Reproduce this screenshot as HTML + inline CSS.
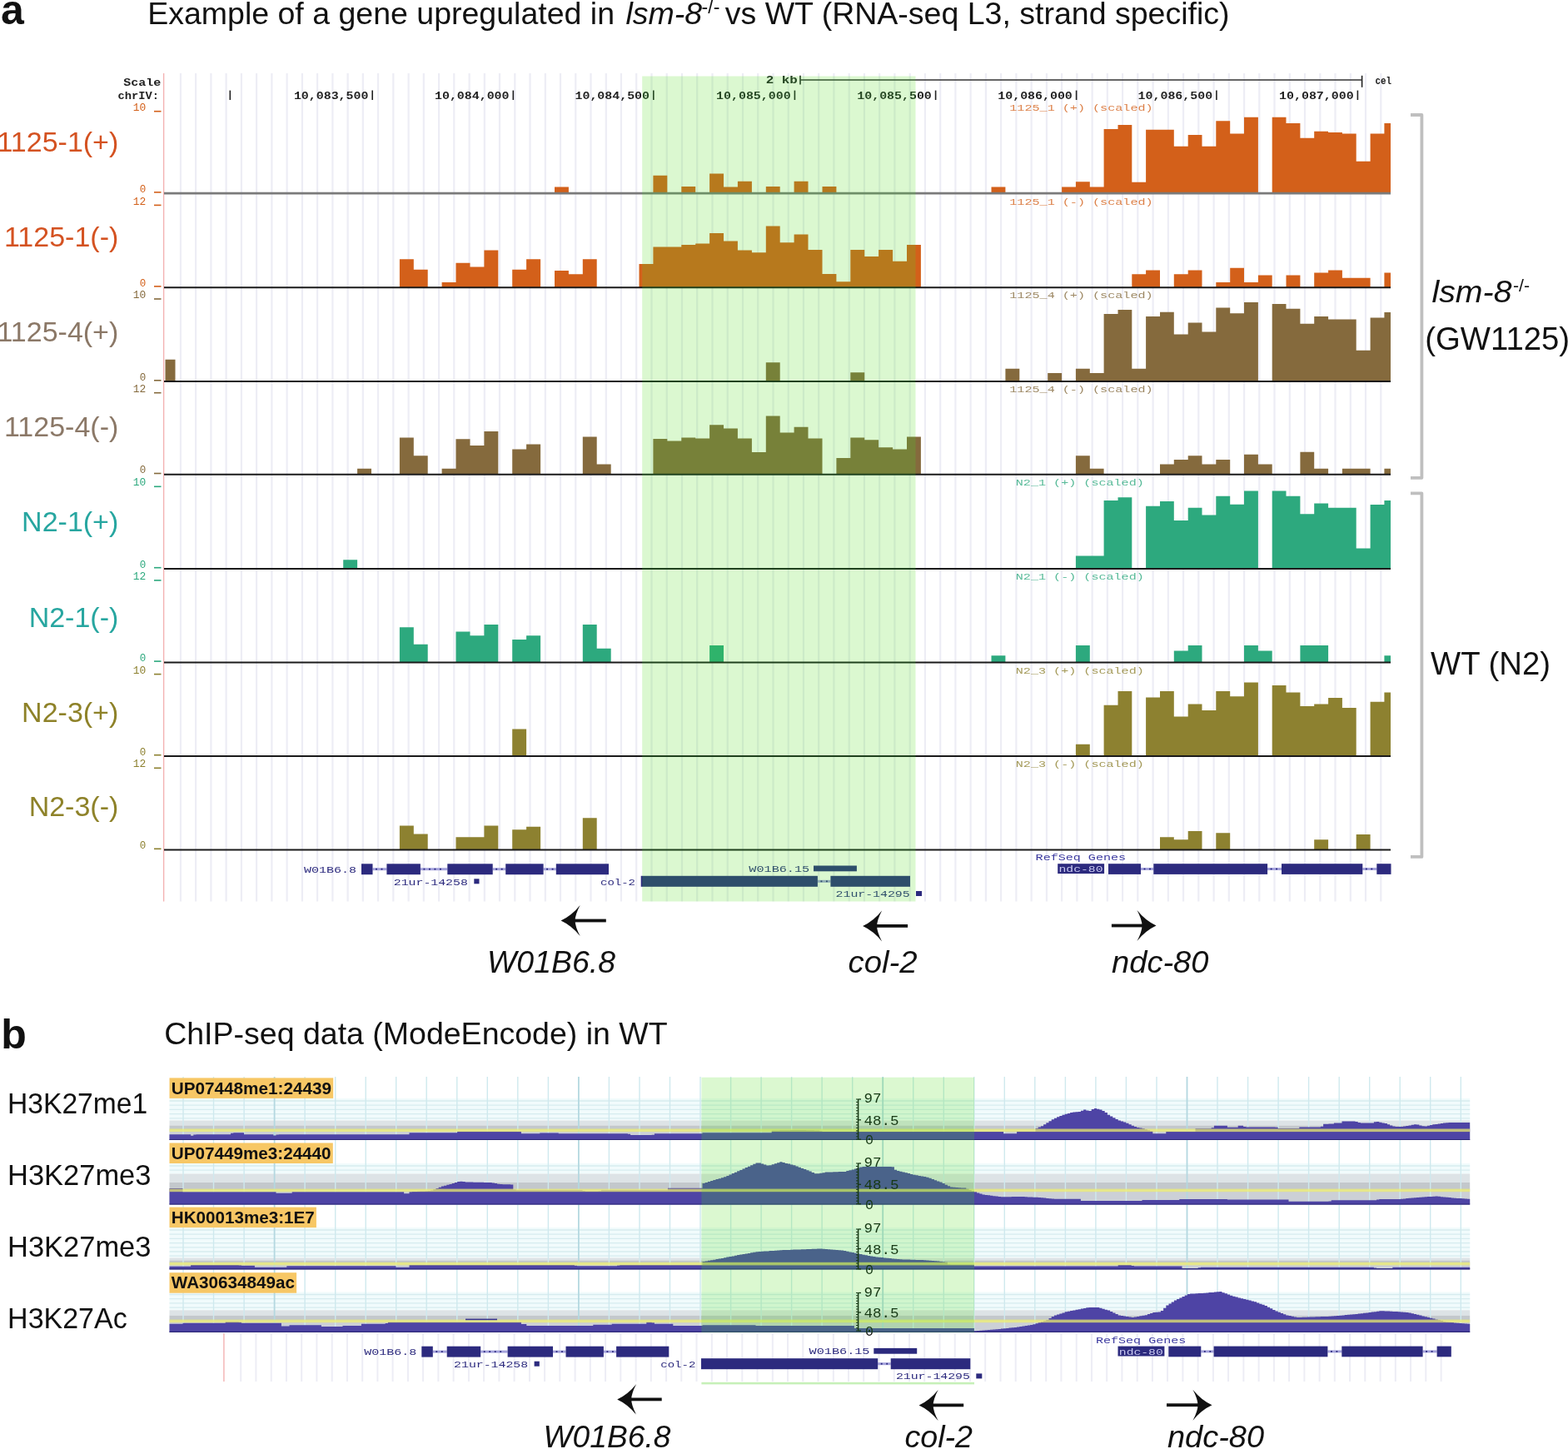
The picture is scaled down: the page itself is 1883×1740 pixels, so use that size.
<!DOCTYPE html>
<html><head><meta charset="utf-8"><title>lsm-8 RNA-seq and ChIP-seq browser tracks</title>
<style>html,body{margin:0;padding:0;background:#fff;}body{width:1883px;height:1740px;overflow:hidden;}svg{display:block;}</style>
</head><body>
<svg width="1883" height="1740" viewBox="0 0 1883 1740">
<rect x="0" y="0" width="1883" height="1740" fill="#fff"/>
<text x="1" y="28.6" font-family="'Liberation Sans', Arial, sans-serif" font-weight="bold" font-size="50" fill="#111">a</text>
<text x="177.2" y="28.7" font-family="'Liberation Sans', Arial, sans-serif" font-size="37.5" fill="#111">Example of a gene upregulated in <tspan font-style="italic" dx="3">lsm-8</tspan><tspan font-size="23" dy="-13" dx="-0.5">-/-</tspan><tspan dy="13" dx="-4"> vs WT (RNA-seq L3, strand specific)</tspan></text>
<defs><clipPath id="cpa"><rect x="771.2" y="91.5" width="328.3" height="991"/></clipPath><clipPath id="cpb"><rect x="842.4" y="1293.8" width="327.6" height="306.5"/></clipPath><filter id="hl" color-interpolation-filters="sRGB" filterUnits="userSpaceOnUse" x="0" y="0" width="1883" height="1740"><feColorMatrix type="matrix" values="0.82 0 0 0 0.039  0 0.8 0 0 0.173  0 0 0.78 0 0.035  0 0 0 1 0"/></filter></defs>
<g id="pa">
<rect x="760" y="85" width="350" height="1000" fill="#fff"/>
<g stroke="#ededf5" stroke-width="2.2"><line x1="216.9" y1="88" x2="216.9" y2="1082.5"/><line x1="235.1" y1="88" x2="235.1" y2="1082.5"/><line x1="253.4" y1="88" x2="253.4" y2="1082.5"/><line x1="271.6" y1="88" x2="271.6" y2="1082.5"/><line x1="289.9" y1="88" x2="289.9" y2="1082.5"/><line x1="308.1" y1="88" x2="308.1" y2="1082.5"/><line x1="326.4" y1="88" x2="326.4" y2="1082.5"/><line x1="344.6" y1="88" x2="344.6" y2="1082.5"/><line x1="362.9" y1="88" x2="362.9" y2="1082.5"/><line x1="381.1" y1="88" x2="381.1" y2="1082.5"/><line x1="399.4" y1="88" x2="399.4" y2="1082.5"/><line x1="417.6" y1="88" x2="417.6" y2="1082.5"/><line x1="435.8" y1="88" x2="435.8" y2="1082.5"/><line x1="454.1" y1="88" x2="454.1" y2="1082.5"/><line x1="472.3" y1="88" x2="472.3" y2="1082.5"/><line x1="490.6" y1="88" x2="490.6" y2="1082.5"/><line x1="508.8" y1="88" x2="508.8" y2="1082.5"/><line x1="527.1" y1="88" x2="527.1" y2="1082.5"/><line x1="545.3" y1="88" x2="545.3" y2="1082.5"/><line x1="563.6" y1="88" x2="563.6" y2="1082.5"/><line x1="581.8" y1="88" x2="581.8" y2="1082.5"/><line x1="600" y1="88" x2="600" y2="1082.5"/><line x1="618.3" y1="88" x2="618.3" y2="1082.5"/><line x1="636.5" y1="88" x2="636.5" y2="1082.5"/><line x1="654.8" y1="88" x2="654.8" y2="1082.5"/><line x1="673" y1="88" x2="673" y2="1082.5"/><line x1="691.3" y1="88" x2="691.3" y2="1082.5"/><line x1="709.5" y1="88" x2="709.5" y2="1082.5"/><line x1="727.8" y1="88" x2="727.8" y2="1082.5"/><line x1="746" y1="88" x2="746" y2="1082.5"/><line x1="764.2" y1="88" x2="764.2" y2="1082.5"/><line x1="782.5" y1="88" x2="782.5" y2="1082.5"/><line x1="800.7" y1="88" x2="800.7" y2="1082.5"/><line x1="819" y1="88" x2="819" y2="1082.5"/><line x1="837.2" y1="88" x2="837.2" y2="1082.5"/><line x1="855.5" y1="88" x2="855.5" y2="1082.5"/><line x1="873.7" y1="88" x2="873.7" y2="1082.5"/><line x1="892" y1="88" x2="892" y2="1082.5"/><line x1="910.2" y1="88" x2="910.2" y2="1082.5"/><line x1="928.5" y1="88" x2="928.5" y2="1082.5"/><line x1="946.7" y1="88" x2="946.7" y2="1082.5"/><line x1="964.9" y1="88" x2="964.9" y2="1082.5"/><line x1="983.2" y1="88" x2="983.2" y2="1082.5"/><line x1="1001.4" y1="88" x2="1001.4" y2="1082.5"/><line x1="1019.7" y1="88" x2="1019.7" y2="1082.5"/><line x1="1037.9" y1="88" x2="1037.9" y2="1082.5"/><line x1="1056.2" y1="88" x2="1056.2" y2="1082.5"/><line x1="1074.4" y1="88" x2="1074.4" y2="1082.5"/><line x1="1092.7" y1="88" x2="1092.7" y2="1082.5"/><line x1="1110.9" y1="88" x2="1110.9" y2="1082.5"/><line x1="1129.2" y1="88" x2="1129.2" y2="1082.5"/><line x1="1147.4" y1="88" x2="1147.4" y2="1082.5"/><line x1="1165.6" y1="88" x2="1165.6" y2="1082.5"/><line x1="1183.9" y1="88" x2="1183.9" y2="1082.5"/><line x1="1202.1" y1="88" x2="1202.1" y2="1082.5"/><line x1="1220.4" y1="88" x2="1220.4" y2="1082.5"/><line x1="1238.6" y1="88" x2="1238.6" y2="1082.5"/><line x1="1256.9" y1="88" x2="1256.9" y2="1082.5"/><line x1="1275.1" y1="88" x2="1275.1" y2="1082.5"/><line x1="1293.4" y1="88" x2="1293.4" y2="1082.5"/><line x1="1311.6" y1="88" x2="1311.6" y2="1082.5"/><line x1="1329.8" y1="88" x2="1329.8" y2="1082.5"/><line x1="1348.1" y1="88" x2="1348.1" y2="1082.5"/><line x1="1366.3" y1="88" x2="1366.3" y2="1082.5"/><line x1="1384.6" y1="88" x2="1384.6" y2="1082.5"/><line x1="1402.8" y1="88" x2="1402.8" y2="1082.5"/><line x1="1421.1" y1="88" x2="1421.1" y2="1082.5"/><line x1="1439.3" y1="88" x2="1439.3" y2="1082.5"/><line x1="1457.6" y1="88" x2="1457.6" y2="1082.5"/><line x1="1475.8" y1="88" x2="1475.8" y2="1082.5"/><line x1="1494.1" y1="88" x2="1494.1" y2="1082.5"/><line x1="1512.3" y1="88" x2="1512.3" y2="1082.5"/><line x1="1530.5" y1="88" x2="1530.5" y2="1082.5"/><line x1="1548.8" y1="88" x2="1548.8" y2="1082.5"/><line x1="1567" y1="88" x2="1567" y2="1082.5"/><line x1="1585.3" y1="88" x2="1585.3" y2="1082.5"/><line x1="1603.5" y1="88" x2="1603.5" y2="1082.5"/><line x1="1621.8" y1="88" x2="1621.8" y2="1082.5"/><line x1="1640" y1="88" x2="1640" y2="1082.5"/><line x1="1658.3" y1="88" x2="1658.3" y2="1082.5"/></g>
<line x1="196.6" y1="88" x2="196.6" y2="1082.5" stroke="#f3b2b2" stroke-width="1.4"/>
<g font-family="'Liberation Mono', 'DejaVu Sans Mono', monospace" font-size="13" font-weight="bold" fill="#222">
<text x="148.3" y="102.6" textLength="45" lengthAdjust="spacingAndGlyphs">Scale</text>
<text x="141.5" y="119.4" textLength="49.5" lengthAdjust="spacingAndGlyphs">chrIV:</text>
<text x="352.9" y="119.4" textLength="89.5" lengthAdjust="spacingAndGlyphs">10,083,500</text>
<text x="522" y="119.4" textLength="89.5" lengthAdjust="spacingAndGlyphs">10,084,000</text>
<text x="690.5" y="119.4" textLength="89.5" lengthAdjust="spacingAndGlyphs">10,084,500</text>
<text x="860.1" y="119.4" textLength="89.5" lengthAdjust="spacingAndGlyphs">10,085,000</text>
<text x="1029.3" y="119.4" textLength="89.5" lengthAdjust="spacingAndGlyphs">10,085,500</text>
<text x="1198.3" y="119.4" textLength="89.5" lengthAdjust="spacingAndGlyphs">10,086,000</text>
<text x="1366.6" y="119.4" textLength="89.5" lengthAdjust="spacingAndGlyphs">10,086,500</text>
<text x="1536.1" y="119.4" textLength="89.5" lengthAdjust="spacingAndGlyphs">10,087,000</text>
<text x="919.8" y="100.2" textLength="38" lengthAdjust="spacingAndGlyphs">2 kb</text>
<text x="1651.5" y="100.6" textLength="19.5" lengthAdjust="spacingAndGlyphs">cel</text>
</g>
<g stroke="#222" stroke-width="1.6">
<line x1="276.3" y1="108.6" x2="276.3" y2="120"/>
<line x1="447.2" y1="108.6" x2="447.2" y2="120"/>
<line x1="616.3" y1="108.6" x2="616.3" y2="120"/>
<line x1="784.8" y1="108.6" x2="784.8" y2="120"/>
<line x1="954.4" y1="108.6" x2="954.4" y2="120"/>
<line x1="1123.6" y1="108.6" x2="1123.6" y2="120"/>
<line x1="1292.6" y1="108.6" x2="1292.6" y2="120"/>
<line x1="1460.9" y1="108.6" x2="1460.9" y2="120"/>
<line x1="1630.4" y1="108.6" x2="1630.4" y2="120"/>
<line x1="961" y1="90.8" x2="961" y2="101.5"/>
<line x1="1635.6" y1="90.8" x2="1635.6" y2="104.8"/>
<line x1="961" y1="96" x2="1635.6" y2="96" stroke="#333" stroke-width="1.5"/>
</g>
<path fill="#d3601a" d="M666 232.2 L666 224.4 L682.9 224.4 L682.9 232.2 Z M784.4 232.2 L784.4 210.8 L801.3 210.8 L801.3 232.2 Z M818.3 232.2 L818.3 224.1 L835.2 224.1 L835.2 232.2 Z M852.1 232.2 L852.1 208.4 L869 208.4 L869 224.4 L885.9 224.4 L885.9 217.7 L902.9 217.7 L902.9 232.2 Z M919.8 232.2 L919.8 224.1 L936.7 224.1 L936.7 232.2 Z M953.6 232.2 L953.6 217.7 L970.5 217.7 L970.5 232.2 Z M987.5 232.2 L987.5 224.1 L1004.4 224.1 L1004.4 232.2 Z M1190.5 232.2 L1190.5 224.4 L1207.4 224.4 L1207.4 232.2 Z M1275.1 232.2 L1275.1 224.4 L1291.9 224.4 L1291.9 218.2 L1308.8 218.2 L1308.8 224.4 L1325.6 224.4 L1325.6 155 L1342.5 155 L1342.5 150 L1359.3 150 L1359.3 218.8 L1376.1 218.8 L1376.1 155.8 L1393 155.8 L1393 155.8 L1409.8 155.8 L1409.8 175.8 L1426.7 175.8 L1426.7 162 L1443.5 162 L1443.5 175.8 L1460.3 175.8 L1460.3 145.2 L1477.2 145.2 L1477.2 160.4 L1494 160.4 L1494 140.7 L1510.9 140.7 L1510.9 232.2 Z M1527.7 232.2 L1527.7 140.7 L1544.5 140.7 L1544.5 147.9 L1561.4 147.9 L1561.4 165.7 L1578.2 165.7 L1578.2 157.7 L1595.1 157.7 L1595.1 159 L1611.9 159 L1611.9 160.4 L1628.7 160.4 L1628.7 193.8 L1645.6 193.8 L1645.6 160.4 L1662.4 160.4 L1662.4 147.9 L1670 147.9 L1670 232.2 Z"/>
<line x1="197" y1="232.2" x2="1670" y2="232.2" stroke="#7a7a7a" stroke-width="2.8"/>
<text x="1212.3" y="132.8" font-family="'Liberation Mono', 'DejaVu Sans Mono', monospace" font-size="11.5" fill="#d3601a" fill-opacity="0.8" textLength="172.3" lengthAdjust="spacingAndGlyphs">1125_1 (+) (scaled)</text>
<text x="159.8" y="132.8" font-family="'Liberation Mono', 'DejaVu Sans Mono', monospace" font-size="12.5" fill="#d3601a" textLength="15.5" lengthAdjust="spacingAndGlyphs">10</text>
<rect x="185" y="132.9" width="8.5" height="1.6" fill="#d3601a"/>
<text x="167.8" y="230.7" font-family="'Liberation Mono', 'DejaVu Sans Mono', monospace" font-size="12.5" fill="#d3601a" textLength="7.5" lengthAdjust="spacingAndGlyphs">0</text>
<rect x="185" y="230.1" width="8.5" height="1.6" fill="#d3601a"/>
<text x="142.3" y="182" font-family="'Liberation Sans', Arial, sans-serif" font-size="34" fill="#d45221" text-anchor="end">1125-1(+)</text>
<path fill="#d3601a" d="M479.9 345.2 L479.9 311.2 L496.8 311.2 L496.8 323.7 L513.7 323.7 L513.7 345.2 Z M530.6 345.2 L530.6 339.1 L547.5 339.1 L547.5 315.7 L564.5 315.7 L564.5 320.5 L581.4 320.5 L581.4 300.6 L598.3 300.6 L598.3 345.2 Z M615.2 345.2 L615.2 323.7 L632.1 323.7 L632.1 311.2 L649.1 311.2 L649.1 345.2 Z M666 345.2 L666 325 L682.9 325 L682.9 329.2 L699.8 329.2 L699.8 311.2 L716.7 311.2 L716.7 345.2 Z M767.5 345.2 L767.5 317 L784.4 317 L784.4 296.6 L801.3 296.6 L801.3 296.6 L818.3 296.6 L818.3 293.9 L835.2 293.9 L835.2 292.6 L852.1 292.6 L852.1 280.1 L869 280.1 L869 289.4 L885.9 289.4 L885.9 300.6 L902.9 300.6 L902.9 303.2 L919.8 303.2 L919.8 271.4 L936.7 271.4 L936.7 291.3 L953.6 291.3 L953.6 281.4 L970.5 281.4 L970.5 300 L987.5 300 L987.5 329 L1004.4 329 L1004.4 338.3 L1021.3 338.3 L1021.3 300 L1038.2 300 L1038.2 308 L1055.1 308 L1055.1 300 L1072.1 300 L1072.1 313.8 L1089 313.8 L1089 293.9 L1105.9 293.9 L1105.9 345.2 Z M1359.3 345.2 L1359.3 329.2 L1376.1 329.2 L1376.1 324.5 L1393 324.5 L1393 345.2 Z M1409.8 345.2 L1409.8 329.2 L1426.7 329.2 L1426.7 324.5 L1443.5 324.5 L1443.5 345.2 Z M1460.3 345.2 L1460.3 339 L1477.2 339 L1477.2 321.8 L1494 321.8 L1494 339 L1510.9 339 L1510.9 330.6 L1527.7 330.6 L1527.7 345.2 Z M1544.5 345.2 L1544.5 330.6 L1561.4 330.6 L1561.4 345.2 Z M1578.2 345.2 L1578.2 327.6 L1595.1 327.6 L1595.1 324.5 L1611.9 324.5 L1611.9 333.8 L1628.7 333.8 L1628.7 333.8 L1645.6 333.8 L1645.6 345.2 Z M1662.4 345.2 L1662.4 327.6 L1670 327.6 L1670 345.2 Z"/>
<line x1="197" y1="345.2" x2="1670" y2="345.2" stroke="#1a1a1a" stroke-width="2"/>
<text x="1212.3" y="245.5" font-family="'Liberation Mono', 'DejaVu Sans Mono', monospace" font-size="11.5" fill="#d3601a" fill-opacity="0.8" textLength="172.3" lengthAdjust="spacingAndGlyphs">1125_1 (-) (scaled)</text>
<text x="159.8" y="245.5" font-family="'Liberation Mono', 'DejaVu Sans Mono', monospace" font-size="12.5" fill="#d3601a" textLength="15.5" lengthAdjust="spacingAndGlyphs">12</text>
<rect x="185" y="245.6" width="8.5" height="1.6" fill="#d3601a"/>
<text x="167.8" y="343.7" font-family="'Liberation Mono', 'DejaVu Sans Mono', monospace" font-size="12.5" fill="#d3601a" textLength="7.5" lengthAdjust="spacingAndGlyphs">0</text>
<rect x="185" y="343.1" width="8.5" height="1.6" fill="#d3601a"/>
<text x="142.3" y="296" font-family="'Liberation Sans', Arial, sans-serif" font-size="34" fill="#d45221" text-anchor="end">1125-1(-)</text>
<path fill="#856a3d" d="M198.5 458.1 L198.5 431.8 L210.5 431.8 L210.5 458.1 Z M919.8 458.1 L919.8 435.3 L936.7 435.3 L936.7 458.1 Z M1021.3 458.1 L1021.3 447.2 L1038.2 447.2 L1038.2 458.1 Z M1207.4 458.1 L1207.4 442.7 L1224.3 442.7 L1224.3 458.1 Z M1258.2 458.1 L1258.2 448 L1275.1 448 L1275.1 458.1 Z M1291.9 458.1 L1291.9 442.7 L1308.8 442.7 L1308.8 448 L1325.6 448 L1325.6 376.9 L1342.5 376.9 L1342.5 372.1 L1359.3 372.1 L1359.3 442.7 L1376.1 442.7 L1376.1 380 L1393 380 L1393 374.7 L1409.8 374.7 L1409.8 401.6 L1426.7 401.6 L1426.7 387.5 L1443.5 387.5 L1443.5 398.6 L1460.3 398.6 L1460.3 369.4 L1477.2 369.4 L1477.2 376.3 L1494 376.3 L1494 363.1 L1510.9 363.1 L1510.9 458.1 Z M1527.7 458.1 L1527.7 364.9 L1544.5 364.9 L1544.5 370.8 L1561.4 370.8 L1561.4 388.8 L1578.2 388.8 L1578.2 380 L1595.1 380 L1595.1 383.5 L1611.9 383.5 L1611.9 383.5 L1628.7 383.5 L1628.7 420.7 L1645.6 420.7 L1645.6 381.6 L1662.4 381.6 L1662.4 375 L1670 375 L1670 458.1 Z"/>
<line x1="197" y1="458.1" x2="1670" y2="458.1" stroke="#1a1a1a" stroke-width="2"/>
<text x="1212.3" y="358.1" font-family="'Liberation Mono', 'DejaVu Sans Mono', monospace" font-size="11.5" fill="#856a3d" fill-opacity="0.8" textLength="172.3" lengthAdjust="spacingAndGlyphs">1125_4 (+) (scaled)</text>
<text x="159.8" y="358.1" font-family="'Liberation Mono', 'DejaVu Sans Mono', monospace" font-size="12.5" fill="#856a3d" textLength="15.5" lengthAdjust="spacingAndGlyphs">10</text>
<rect x="185" y="358.2" width="8.5" height="1.6" fill="#856a3d"/>
<text x="167.8" y="456.6" font-family="'Liberation Mono', 'DejaVu Sans Mono', monospace" font-size="12.5" fill="#856a3d" textLength="7.5" lengthAdjust="spacingAndGlyphs">0</text>
<rect x="185" y="456" width="8.5" height="1.6" fill="#856a3d"/>
<text x="142.3" y="410" font-family="'Liberation Sans', Arial, sans-serif" font-size="34" fill="#8b7867" text-anchor="end">1125-4(+)</text>
<path fill="#856a3d" d="M429.1 569.8 L429.1 562.7 L446 562.7 L446 569.8 Z M479.9 569.8 L479.9 525.6 L496.8 525.6 L496.8 547.3 L513.7 547.3 L513.7 569.8 Z M530.6 569.8 L530.6 562.7 L547.5 562.7 L547.5 527.2 L564.5 527.2 L564.5 534.9 L581.4 534.9 L581.4 518.1 L598.3 518.1 L598.3 569.8 Z M615.2 569.8 L615.2 539.6 L632.1 539.6 L632.1 533.5 L649.1 533.5 L649.1 569.8 Z M699.8 569.8 L699.8 524.5 L716.7 524.5 L716.7 557.4 L733.7 557.4 L733.7 569.8 Z M784.4 569.8 L784.4 526.9 L801.3 526.9 L801.3 529.5 L818.3 529.5 L818.3 525.6 L835.2 525.6 L835.2 526.6 L852.1 526.6 L852.1 510.2 L869 510.2 L869 514.4 L885.9 514.4 L885.9 526.6 L902.9 526.6 L902.9 543.1 L919.8 543.1 L919.8 499.5 L936.7 499.5 L936.7 519.5 L953.6 519.5 L953.6 512.8 L970.5 512.8 L970.5 526.6 L987.5 526.6 L987.5 569.8 Z M1004.4 569.8 L1004.4 550 L1021.3 550 L1021.3 525.6 L1038.2 525.6 L1038.2 528.2 L1055.1 528.2 L1055.1 537.2 L1072.1 537.2 L1072.1 539.4 L1089 539.4 L1089 524.5 L1105.9 524.5 L1105.9 569.8 Z M1291.9 569.8 L1291.9 547.3 L1308.8 547.3 L1308.8 562.7 L1325.6 562.7 L1325.6 569.8 Z M1393 569.8 L1393 557.4 L1409.8 557.4 L1409.8 552.1 L1426.7 552.1 L1426.7 547.3 L1443.5 547.3 L1443.5 557.4 L1460.3 557.4 L1460.3 552.1 L1477.2 552.1 L1477.2 569.8 Z M1494 569.8 L1494 545.7 L1510.9 545.7 L1510.9 557.4 L1527.7 557.4 L1527.7 569.8 Z M1561.4 569.8 L1561.4 542.8 L1578.2 542.8 L1578.2 562.7 L1595.1 562.7 L1595.1 569.8 Z M1611.9 569.8 L1611.9 562.7 L1628.7 562.7 L1628.7 562.7 L1645.6 562.7 L1645.6 569.8 Z M1662.4 569.8 L1662.4 562.7 L1670 562.7 L1670 569.8 Z"/>
<line x1="197" y1="569.8" x2="1670" y2="569.8" stroke="#1a1a1a" stroke-width="2"/>
<text x="1212.3" y="470.8" font-family="'Liberation Mono', 'DejaVu Sans Mono', monospace" font-size="11.5" fill="#856a3d" fill-opacity="0.8" textLength="172.3" lengthAdjust="spacingAndGlyphs">1125_4 (-) (scaled)</text>
<text x="159.8" y="470.8" font-family="'Liberation Mono', 'DejaVu Sans Mono', monospace" font-size="12.5" fill="#856a3d" textLength="15.5" lengthAdjust="spacingAndGlyphs">12</text>
<rect x="185" y="470.9" width="8.5" height="1.6" fill="#856a3d"/>
<text x="167.8" y="568.3" font-family="'Liberation Mono', 'DejaVu Sans Mono', monospace" font-size="12.5" fill="#856a3d" textLength="7.5" lengthAdjust="spacingAndGlyphs">0</text>
<rect x="185" y="567.7" width="8.5" height="1.6" fill="#856a3d"/>
<text x="142.3" y="524.3" font-family="'Liberation Sans', Arial, sans-serif" font-size="34" fill="#8b7867" text-anchor="end">1125-4(-)</text>
<path fill="#2da97e" d="M412.2 683 L412.2 672.2 L429.1 672.2 L429.1 683 Z M1291.9 683 L1291.9 667.5 L1308.8 667.5 L1308.8 667.5 L1325.6 667.5 L1325.6 601.1 L1342.5 601.1 L1342.5 597.3 L1359.3 597.3 L1359.3 683 Z M1376.1 683 L1376.1 607.7 L1393 607.7 L1393 601.9 L1409.8 601.9 L1409.8 625 L1426.7 625 L1426.7 609.8 L1443.5 609.8 L1443.5 618.6 L1460.3 618.6 L1460.3 595.8 L1477.2 595.8 L1477.2 605.8 L1494 605.8 L1494 589.4 L1510.9 589.4 L1510.9 683 Z M1527.7 683 L1527.7 589.4 L1544.5 589.4 L1544.5 595.8 L1561.4 595.8 L1561.4 617.3 L1578.2 617.3 L1578.2 604.5 L1595.1 604.5 L1595.1 609.8 L1611.9 609.8 L1611.9 609.8 L1628.7 609.8 L1628.7 658.4 L1645.6 658.4 L1645.6 606.1 L1662.4 606.1 L1662.4 601.1 L1670 601.1 L1670 683 Z"/>
<line x1="197" y1="683" x2="1670" y2="683" stroke="#1a1a1a" stroke-width="2"/>
<text x="1219.8" y="583.4" font-family="'Liberation Mono', 'DejaVu Sans Mono', monospace" font-size="11.5" fill="#2da97e" fill-opacity="0.8" textLength="154" lengthAdjust="spacingAndGlyphs">N2_1 (+) (scaled)</text>
<text x="159.8" y="583.4" font-family="'Liberation Mono', 'DejaVu Sans Mono', monospace" font-size="12.5" fill="#2da97e" textLength="15.5" lengthAdjust="spacingAndGlyphs">10</text>
<rect x="185" y="583.5" width="8.5" height="1.6" fill="#2da97e"/>
<text x="167.8" y="681.5" font-family="'Liberation Mono', 'DejaVu Sans Mono', monospace" font-size="12.5" fill="#2da97e" textLength="7.5" lengthAdjust="spacingAndGlyphs">0</text>
<rect x="185" y="680.9" width="8.5" height="1.6" fill="#2da97e"/>
<text x="142.3" y="638.2" font-family="'Liberation Sans', Arial, sans-serif" font-size="34" fill="#27a6a0" text-anchor="end">N2-1(+)</text>
<path fill="#2da97e" d="M479.9 795.4 L479.9 753.2 L496.8 753.2 L496.8 773.7 L513.7 773.7 L513.7 795.4 Z M547.5 795.4 L547.5 758.5 L564.5 758.5 L564.5 763.3 L581.4 763.3 L581.4 750 L598.3 750 L598.3 795.4 Z M615.2 795.4 L615.2 768.1 L632.1 768.1 L632.1 763.3 L649.1 763.3 L649.1 795.4 Z M699.8 795.4 L699.8 750 L716.7 750 L716.7 778.7 L733.7 778.7 L733.7 795.4 Z M852.1 795.4 L852.1 775 L869 775 L869 795.4 Z M1190.5 795.4 L1190.5 787.2 L1207.4 787.2 L1207.4 795.4 Z M1291.9 795.4 L1291.9 775 L1308.8 775 L1308.8 795.4 Z M1409.8 795.4 L1409.8 781.6 L1426.7 781.6 L1426.7 775 L1443.5 775 L1443.5 795.4 Z M1494 795.4 L1494 775 L1510.9 775 L1510.9 781.6 L1527.7 781.6 L1527.7 795.4 Z M1561.4 795.4 L1561.4 775 L1578.2 775 L1578.2 775 L1595.1 775 L1595.1 795.4 Z M1662.4 795.4 L1662.4 787.2 L1670 787.2 L1670 795.4 Z"/>
<line x1="197" y1="795.4" x2="1670" y2="795.4" stroke="#1a1a1a" stroke-width="2"/>
<text x="1219.8" y="696" font-family="'Liberation Mono', 'DejaVu Sans Mono', monospace" font-size="11.5" fill="#2da97e" fill-opacity="0.8" textLength="154" lengthAdjust="spacingAndGlyphs">N2_1 (-) (scaled)</text>
<text x="159.8" y="696" font-family="'Liberation Mono', 'DejaVu Sans Mono', monospace" font-size="12.5" fill="#2da97e" textLength="15.5" lengthAdjust="spacingAndGlyphs">12</text>
<rect x="185" y="696.1" width="8.5" height="1.6" fill="#2da97e"/>
<text x="167.8" y="793.9" font-family="'Liberation Mono', 'DejaVu Sans Mono', monospace" font-size="12.5" fill="#2da97e" textLength="7.5" lengthAdjust="spacingAndGlyphs">0</text>
<rect x="185" y="793.3" width="8.5" height="1.6" fill="#2da97e"/>
<text x="142.3" y="752.7" font-family="'Liberation Sans', Arial, sans-serif" font-size="34" fill="#27a6a0" text-anchor="end">N2-1(-)</text>
<path fill="#8d8130" d="M615.2 908 L615.2 875.5 L632.1 875.5 L632.1 908 Z M1291.9 908 L1291.9 893.8 L1308.8 893.8 L1308.8 908 Z M1325.6 908 L1325.6 846.8 L1342.5 846.8 L1342.5 830 L1359.3 830 L1359.3 908 Z M1376.1 908 L1376.1 837.5 L1393 837.5 L1393 830 L1409.8 830 L1409.8 860.6 L1426.7 860.6 L1426.7 845.5 L1443.5 845.5 L1443.5 852.9 L1460.3 852.9 L1460.3 830 L1477.2 830 L1477.2 836.2 L1494 836.2 L1494 819.4 L1510.9 819.4 L1510.9 908 Z M1527.7 908 L1527.7 822.9 L1544.5 822.9 L1544.5 831.6 L1561.4 831.6 L1561.4 848.1 L1578.2 848.1 L1578.2 845.5 L1595.1 845.5 L1595.1 838 L1611.9 838 L1611.9 850 L1628.7 850 L1628.7 908 Z M1645.6 908 L1645.6 842.8 L1662.4 842.8 L1662.4 831.6 L1670 831.6 L1670 908 Z"/>
<line x1="197" y1="908" x2="1670" y2="908" stroke="#1a1a1a" stroke-width="2"/>
<text x="1219.8" y="808.7" font-family="'Liberation Mono', 'DejaVu Sans Mono', monospace" font-size="11.5" fill="#8d8130" fill-opacity="0.8" textLength="154" lengthAdjust="spacingAndGlyphs">N2_3 (+) (scaled)</text>
<text x="159.8" y="808.7" font-family="'Liberation Mono', 'DejaVu Sans Mono', monospace" font-size="12.5" fill="#8d8130" textLength="15.5" lengthAdjust="spacingAndGlyphs">10</text>
<rect x="185" y="808.8" width="8.5" height="1.6" fill="#8d8130"/>
<text x="167.8" y="906.5" font-family="'Liberation Mono', 'DejaVu Sans Mono', monospace" font-size="12.5" fill="#8d8130" textLength="7.5" lengthAdjust="spacingAndGlyphs">0</text>
<rect x="185" y="905.9" width="8.5" height="1.6" fill="#8d8130"/>
<text x="142.3" y="866.5" font-family="'Liberation Sans', Arial, sans-serif" font-size="34" fill="#8e8229" text-anchor="end">N2-3(+)</text>
<path fill="#8d8130" d="M479.9 1020.6 L479.9 991.5 L496.8 991.5 L496.8 1001.6 L513.7 1001.6 L513.7 1020.6 Z M547.5 1020.6 L547.5 1005.3 L564.5 1005.3 L564.5 1005.3 L581.4 1005.3 L581.4 991.5 L598.3 991.5 L598.3 1020.6 Z M615.2 1020.6 L615.2 996.3 L632.1 996.3 L632.1 992.8 L649.1 992.8 L649.1 1020.6 Z M699.8 1020.6 L699.8 982.2 L716.7 982.2 L716.7 1020.6 Z M1393 1020.6 L1393 1005.3 L1409.8 1005.3 L1409.8 1008.2 L1426.7 1008.2 L1426.7 998.1 L1443.5 998.1 L1443.5 1020.6 Z M1460.3 1020.6 L1460.3 1000.3 L1477.2 1000.3 L1477.2 1020.6 Z M1578.2 1020.6 L1578.2 1008.2 L1595.1 1008.2 L1595.1 1020.6 Z M1628.7 1020.6 L1628.7 1002.1 L1645.6 1002.1 L1645.6 1020.6 Z"/>
<line x1="197" y1="1020.6" x2="1670" y2="1020.6" stroke="#1a1a1a" stroke-width="2"/>
<text x="1219.8" y="921.4" font-family="'Liberation Mono', 'DejaVu Sans Mono', monospace" font-size="11.5" fill="#8d8130" fill-opacity="0.8" textLength="154" lengthAdjust="spacingAndGlyphs">N2_3 (-) (scaled)</text>
<text x="159.8" y="921.4" font-family="'Liberation Mono', 'DejaVu Sans Mono', monospace" font-size="12.5" fill="#8d8130" textLength="15.5" lengthAdjust="spacingAndGlyphs">12</text>
<rect x="185" y="921.5" width="8.5" height="1.6" fill="#8d8130"/>
<text x="167.8" y="1019.1" font-family="'Liberation Mono', 'DejaVu Sans Mono', monospace" font-size="12.5" fill="#8d8130" textLength="7.5" lengthAdjust="spacingAndGlyphs">0</text>
<rect x="185" y="1018.5" width="8.5" height="1.6" fill="#8d8130"/>
<text x="142.3" y="980.3" font-family="'Liberation Sans', Arial, sans-serif" font-size="34" fill="#8e8229" text-anchor="end">N2-3(-)</text>
<rect x="447.5" y="1042.2" width="16.9" height="3" fill="#a4a2dc"/><rect x="451.1" y="1042.8" width="1.8" height="1.8" fill="#2c2a7e"/><rect x="457.6" y="1042.8" width="1.8" height="1.8" fill="#2c2a7e"/><rect x="504.9" y="1042.2" width="32.4" height="3" fill="#a4a2dc"/><rect x="508.5" y="1042.8" width="1.8" height="1.8" fill="#2c2a7e"/><rect x="515" y="1042.8" width="1.8" height="1.8" fill="#2c2a7e"/><rect x="521.5" y="1042.8" width="1.8" height="1.8" fill="#2c2a7e"/><rect x="528" y="1042.8" width="1.8" height="1.8" fill="#2c2a7e"/><rect x="591.7" y="1042.2" width="15.5" height="3" fill="#a4a2dc"/><rect x="595.3" y="1042.8" width="1.8" height="1.8" fill="#2c2a7e"/><rect x="601.8" y="1042.8" width="1.8" height="1.8" fill="#2c2a7e"/><rect x="652.6" y="1042.2" width="15.2" height="3" fill="#a4a2dc"/><rect x="656.2" y="1042.8" width="1.8" height="1.8" fill="#2c2a7e"/><rect x="662.7" y="1042.8" width="1.8" height="1.8" fill="#2c2a7e"/><rect x="434" y="1037.3" width="13.5" height="12.9" fill="#2c2a7e"/><rect x="464.4" y="1037.3" width="40.5" height="12.9" fill="#2c2a7e"/><rect x="537.3" y="1037.3" width="54.4" height="12.9" fill="#2c2a7e"/><rect x="607.2" y="1037.3" width="45.4" height="12.9" fill="#2c2a7e"/><rect x="667.8" y="1037.3" width="63.2" height="12.9" fill="#2c2a7e"/><text x="365" y="1047.5" font-family="'Liberation Mono', 'DejaVu Sans Mono', monospace" font-size="11.5" fill="#2c2a7e" textLength="63" lengthAdjust="spacingAndGlyphs">W01B6.8</text><text x="472.8" y="1062.5" font-family="'Liberation Mono', 'DejaVu Sans Mono', monospace" font-size="11.5" fill="#2c2a7e" textLength="89" lengthAdjust="spacingAndGlyphs">21ur-14258</text><rect x="569.3" y="1055.3" width="6.2" height="6" fill="#2c2a7e"/><rect x="981.9" y="1056.8" width="15.5" height="3" fill="#a4a2dc"/><rect x="985.5" y="1057.4" width="1.8" height="1.8" fill="#2c2a7e"/><rect x="992" y="1057.4" width="1.8" height="1.8" fill="#2c2a7e"/><rect x="769.7" y="1051.8" width="212.2" height="13" fill="#2c2a7e"/><rect x="997.4" y="1051.8" width="95.6" height="13" fill="#2c2a7e"/><text x="721" y="1062.5" font-family="'Liberation Mono', 'DejaVu Sans Mono', monospace" font-size="11.5" fill="#2c2a7e" textLength="42" lengthAdjust="spacingAndGlyphs">col-2</text><text x="899.3" y="1046.5" font-family="'Liberation Mono', 'DejaVu Sans Mono', monospace" font-size="11.5" fill="#2c2a7e" textLength="72.9" lengthAdjust="spacingAndGlyphs">W01B6.15</text><rect x="977" y="1039.5" width="51.9" height="6.8" fill="#2c2a7e"/><text x="1003.6" y="1077" font-family="'Liberation Mono', 'DejaVu Sans Mono', monospace" font-size="11.5" fill="#2c2a7e" textLength="89" lengthAdjust="spacingAndGlyphs">21ur-14295</text><rect x="1100" y="1070" width="7" height="6" fill="#2c2a7e"/><text x="1243.6" y="1033.3" font-family="'Liberation Mono', 'DejaVu Sans Mono', monospace" font-size="11.5" fill="#3c3aa0" textLength="108.5" lengthAdjust="spacingAndGlyphs">RefSeq Genes</text><rect x="1270.2" y="1037.2" width="55.9" height="11.9" fill="#2c2a7e"/><text x="1271.5" y="1047.2" font-family="'Liberation Mono', 'DejaVu Sans Mono', monospace" font-size="11.5" fill="#c8c8f0" textLength="53" lengthAdjust="spacingAndGlyphs">ndc-80</text><rect x="1370" y="1042" width="15.3" height="3" fill="#a4a2dc"/><rect x="1373.6" y="1042.6" width="1.8" height="1.8" fill="#2c2a7e"/><rect x="1380.1" y="1042.6" width="1.8" height="1.8" fill="#2c2a7e"/><rect x="1522.1" y="1042" width="16.9" height="3" fill="#a4a2dc"/><rect x="1525.7" y="1042.6" width="1.8" height="1.8" fill="#2c2a7e"/><rect x="1532.2" y="1042.6" width="1.8" height="1.8" fill="#2c2a7e"/><rect x="1636.3" y="1042" width="17" height="3" fill="#a4a2dc"/><rect x="1639.9" y="1042.6" width="1.8" height="1.8" fill="#2c2a7e"/><rect x="1646.4" y="1042.6" width="1.8" height="1.8" fill="#2c2a7e"/><rect x="1331" y="1037.2" width="39" height="12.7" fill="#2c2a7e"/><rect x="1385.3" y="1037.2" width="136.8" height="12.7" fill="#2c2a7e"/><rect x="1539" y="1037.2" width="97.3" height="12.7" fill="#2c2a7e"/><rect x="1653.3" y="1037.2" width="17.2" height="12.7" fill="#2c2a7e"/>
</g>
<g clip-path="url(#cpa)"><use href="#pa" filter="url(#hl)"/></g>
<path d="M673.6 1105.5 Q686.6 1099.5 696.6 1087 Q690.6 1098.5 690.6 1105.5 Q690.6 1112.5 696.6 1124 Q686.6 1111.5 673.6 1105.5Z" fill="#111"/><rect x="688.6" y="1103.6" width="39.2" height="3.8" fill="#111"/>
<path d="M1036.1 1111.9 Q1049.1 1105.9 1059.1 1093.4 Q1053.1 1104.9 1053.1 1111.9 Q1053.1 1118.9 1059.1 1130.4 Q1049.1 1117.9 1036.1 1111.9Z" fill="#111"/><rect x="1051.1" y="1110" width="39" height="3.8" fill="#111"/>
<path d="M1388.5 1111.5 Q1375.5 1105.5 1365.5 1093 Q1371.5 1104.5 1371.5 1111.5 Q1371.5 1118.5 1365.5 1130 Q1375.5 1117.5 1388.5 1111.5Z" fill="#111"/><rect x="1334.9" y="1109.6" width="38.6" height="3.8" fill="#111"/>
<g font-family="'Liberation Sans', Arial, sans-serif" font-style="italic" font-size="37" fill="#111">
<text x="585" y="1168" textLength="154" lengthAdjust="spacingAndGlyphs">W01B6.8</text>
<text x="1018.5" y="1168" textLength="83" lengthAdjust="spacingAndGlyphs">col-2</text>
<text x="1335" y="1168" textLength="116.5" lengthAdjust="spacingAndGlyphs">ndc-80</text>
</g>
<g stroke="#bfbfbf" stroke-width="3.8" fill="none" stroke-linejoin="round">
<path d="M1694 138 H1707.4 V573.8 H1694"/>
<path d="M1694 592.4 H1707.4 V1028.9 H1694"/>
</g>
<text x="1719.5" y="362.8" font-family="'Liberation Sans', Arial, sans-serif" font-size="37.5" font-style="italic" fill="#111" textLength="96" lengthAdjust="spacingAndGlyphs">lsm-8</text>
<text x="1817" y="349.5" font-family="'Liberation Sans', Arial, sans-serif" font-size="21" fill="#111" textLength="20" lengthAdjust="spacingAndGlyphs">-/-</text>
<text x="1711.3" y="419.6" font-family="'Liberation Sans', Arial, sans-serif" font-size="38.3" fill="#111">(GW1125)</text>
<text x="1718" y="810" font-family="'Liberation Sans', Arial, sans-serif" font-size="38.3" fill="#111">WT (N2)</text>
<text x="1.2" y="1258.6" font-family="'Liberation Sans', Arial, sans-serif" font-weight="bold" font-size="50" fill="#111">b</text>
<text x="197.2" y="1253.8" font-family="'Liberation Sans', Arial, sans-serif" font-size="37.5" fill="#111">ChIP-seq data (ModeEncode) in WT</text>
<g id="pb">
<rect x="830" y="1285" width="350" height="320" fill="#fff"/>
<rect x="203.5" y="1319" width="1561.7" height="26.5" fill="#f1fbfc"/>
<g stroke="#d6ecef" stroke-width="1.3"><line x1="203.5" y1="1322" x2="1765.2" y2="1322"/><line x1="203.5" y1="1327.2" x2="1765.2" y2="1327.2"/><line x1="203.5" y1="1332.4" x2="1765.2" y2="1332.4"/><line x1="203.5" y1="1337.6" x2="1765.2" y2="1337.6"/><line x1="203.5" y1="1342.8" x2="1765.2" y2="1342.8"/></g>
<rect x="203.5" y="1345.5" width="1561.7" height="6" fill="#dde3e6"/>
<rect x="203.5" y="1351.5" width="1561.7" height="5.8" fill="#c3c8cc"/>
<rect x="203.5" y="1357.3" width="1561.7" height="11.6" fill="#ccd0d6"/>
<rect x="203.5" y="1397" width="1561.7" height="12.5" fill="#f1fbfc"/>
<g stroke="#d6ecef" stroke-width="1.3"><line x1="203.5" y1="1400" x2="1765.2" y2="1400"/><line x1="203.5" y1="1405.2" x2="1765.2" y2="1405.2"/></g>
<rect x="203.5" y="1409.5" width="1561.7" height="10.5" fill="#dde3e6"/>
<rect x="203.5" y="1420" width="1561.7" height="9.4" fill="#c3c8cc"/>
<rect x="203.5" y="1429.4" width="1561.7" height="17" fill="#ccd0d6"/>
<rect x="203.5" y="1474" width="1561.7" height="36.5" fill="#f1fbfc"/>
<g stroke="#d6ecef" stroke-width="1.3"><line x1="203.5" y1="1477" x2="1765.2" y2="1477"/><line x1="203.5" y1="1482.2" x2="1765.2" y2="1482.2"/><line x1="203.5" y1="1487.4" x2="1765.2" y2="1487.4"/><line x1="203.5" y1="1492.6" x2="1765.2" y2="1492.6"/><line x1="203.5" y1="1497.8" x2="1765.2" y2="1497.8"/><line x1="203.5" y1="1503" x2="1765.2" y2="1503"/><line x1="203.5" y1="1508.2" x2="1765.2" y2="1508.2"/></g>
<rect x="203.5" y="1510.5" width="1561.7" height="3" fill="#dde3e6"/>
<rect x="203.5" y="1513.5" width="1561.7" height="4.1" fill="#c3c8cc"/>
<rect x="203.5" y="1517.6" width="1561.7" height="6.6" fill="#ccd0d6"/>
<rect x="203.5" y="1551.5" width="1561.7" height="21.8" fill="#f1fbfc"/>
<g stroke="#d6ecef" stroke-width="1.3"><line x1="203.5" y1="1554.5" x2="1765.2" y2="1554.5"/><line x1="203.5" y1="1559.7" x2="1765.2" y2="1559.7"/><line x1="203.5" y1="1564.9" x2="1765.2" y2="1564.9"/><line x1="203.5" y1="1570.1" x2="1765.2" y2="1570.1"/></g>
<rect x="203.5" y="1573.3" width="1561.7" height="6.4" fill="#dde3e6"/>
<rect x="203.5" y="1579.7" width="1561.7" height="6.7" fill="#c3c8cc"/>
<rect x="203.5" y="1586.4" width="1561.7" height="13.4" fill="#ccd0d6"/>
<line x1="220" y1="1293" x2="220" y2="1600" stroke="#cfe9ee" stroke-width="1.4"/><line x1="256.5" y1="1293" x2="256.5" y2="1600" stroke="#cfe9ee" stroke-width="1.4"/><line x1="293.1" y1="1293" x2="293.1" y2="1600" stroke="#cfe9ee" stroke-width="1.4"/><line x1="329.6" y1="1293" x2="329.6" y2="1600" stroke="#b4d8e0" stroke-width="1.8"/><line x1="366.1" y1="1293" x2="366.1" y2="1600" stroke="#cfe9ee" stroke-width="1.4"/><line x1="402.7" y1="1293" x2="402.7" y2="1600" stroke="#cfe9ee" stroke-width="1.4"/><line x1="439.2" y1="1293" x2="439.2" y2="1600" stroke="#cfe9ee" stroke-width="1.4"/><line x1="475.7" y1="1293" x2="475.7" y2="1600" stroke="#cfe9ee" stroke-width="1.4"/><line x1="512.2" y1="1293" x2="512.2" y2="1600" stroke="#cfe9ee" stroke-width="1.4"/><line x1="548.8" y1="1293" x2="548.8" y2="1600" stroke="#cfe9ee" stroke-width="1.4"/><line x1="585.3" y1="1293" x2="585.3" y2="1600" stroke="#cfe9ee" stroke-width="1.4"/><line x1="621.8" y1="1293" x2="621.8" y2="1600" stroke="#cfe9ee" stroke-width="1.4"/><line x1="658.4" y1="1293" x2="658.4" y2="1600" stroke="#cfe9ee" stroke-width="1.4"/><line x1="694.9" y1="1293" x2="694.9" y2="1600" stroke="#b4d8e0" stroke-width="1.8"/><line x1="731.4" y1="1293" x2="731.4" y2="1600" stroke="#cfe9ee" stroke-width="1.4"/><line x1="768" y1="1293" x2="768" y2="1600" stroke="#cfe9ee" stroke-width="1.4"/><line x1="804.5" y1="1293" x2="804.5" y2="1600" stroke="#cfe9ee" stroke-width="1.4"/><line x1="841" y1="1293" x2="841" y2="1600" stroke="#cfe9ee" stroke-width="1.4"/><line x1="877.6" y1="1293" x2="877.6" y2="1600" stroke="#cfe9ee" stroke-width="1.4"/><line x1="914.1" y1="1293" x2="914.1" y2="1600" stroke="#cfe9ee" stroke-width="1.4"/><line x1="950.6" y1="1293" x2="950.6" y2="1600" stroke="#cfe9ee" stroke-width="1.4"/><line x1="987.1" y1="1293" x2="987.1" y2="1600" stroke="#cfe9ee" stroke-width="1.4"/><line x1="1023.7" y1="1293" x2="1023.7" y2="1600" stroke="#cfe9ee" stroke-width="1.4"/><line x1="1060.2" y1="1293" x2="1060.2" y2="1600" stroke="#b4d8e0" stroke-width="1.8"/><line x1="1096.7" y1="1293" x2="1096.7" y2="1600" stroke="#cfe9ee" stroke-width="1.4"/><line x1="1133.3" y1="1293" x2="1133.3" y2="1600" stroke="#cfe9ee" stroke-width="1.4"/><line x1="1169.8" y1="1293" x2="1169.8" y2="1600" stroke="#cfe9ee" stroke-width="1.4"/><line x1="1206.3" y1="1293" x2="1206.3" y2="1600" stroke="#cfe9ee" stroke-width="1.4"/><line x1="1242.8" y1="1293" x2="1242.8" y2="1600" stroke="#cfe9ee" stroke-width="1.4"/><line x1="1279.4" y1="1293" x2="1279.4" y2="1600" stroke="#cfe9ee" stroke-width="1.4"/><line x1="1315.9" y1="1293" x2="1315.9" y2="1600" stroke="#cfe9ee" stroke-width="1.4"/><line x1="1352.4" y1="1293" x2="1352.4" y2="1600" stroke="#cfe9ee" stroke-width="1.4"/><line x1="1389" y1="1293" x2="1389" y2="1600" stroke="#cfe9ee" stroke-width="1.4"/><line x1="1425.5" y1="1293" x2="1425.5" y2="1600" stroke="#b4d8e0" stroke-width="1.8"/><line x1="1462" y1="1293" x2="1462" y2="1600" stroke="#cfe9ee" stroke-width="1.4"/><line x1="1498.6" y1="1293" x2="1498.6" y2="1600" stroke="#cfe9ee" stroke-width="1.4"/><line x1="1535.1" y1="1293" x2="1535.1" y2="1600" stroke="#cfe9ee" stroke-width="1.4"/><line x1="1571.6" y1="1293" x2="1571.6" y2="1600" stroke="#cfe9ee" stroke-width="1.4"/><line x1="1608.2" y1="1293" x2="1608.2" y2="1600" stroke="#cfe9ee" stroke-width="1.4"/><line x1="1644.7" y1="1293" x2="1644.7" y2="1600" stroke="#cfe9ee" stroke-width="1.4"/><line x1="1681.2" y1="1293" x2="1681.2" y2="1600" stroke="#cfe9ee" stroke-width="1.4"/><line x1="1717.7" y1="1293" x2="1717.7" y2="1600" stroke="#cfe9ee" stroke-width="1.4"/><line x1="1754.3" y1="1293" x2="1754.3" y2="1600" stroke="#cfe9ee" stroke-width="1.4"/>
<path d="M203.5 1368.9 V1362.3 H206.7 V1362.3 H209.9 V1362.3 H213.1 V1362.3 H216.3 V1362.3 H219.5 V1362.3 H222.7 V1362.3 H225.9 V1362.3 H229.1 V1363.7 H232.3 V1362.4 H235.5 V1362.3 H238.7 V1362.3 H241.9 V1362.3 H245.1 V1362.3 H248.3 V1362.3 H251.5 V1362.3 H254.7 V1362.3 H257.9 V1362.3 H261.1 V1362.3 H264.3 V1362.3 H267.5 V1362.3 H270.7 V1362.3 H273.9 V1362.3 H277.1 V1360.8 H280.3 V1360.2 H283.5 V1360.2 H286.7 V1360.2 H289.9 V1360.2 H293.1 V1362.3 H296.3 V1362.3 H299.5 V1362.3 H302.7 V1362.3 H305.9 V1362.3 H309.1 V1362.3 H312.3 V1362.3 H315.5 V1362.3 H318.7 V1362.3 H321.9 V1362.3 H325.1 V1362.3 H328.3 V1363.4 H331.5 V1362.6 H334.7 V1362.3 H337.9 V1362.3 H341.1 V1362.3 H344.3 V1362.3 H347.5 V1362.3 H350.7 V1362.3 H353.9 V1362.3 H357.1 V1362.3 H360.3 V1362.3 H363.5 V1362.3 H366.7 V1362.3 H369.9 V1362.3 H373.1 V1362.3 H376.3 V1362.3 H379.5 V1362.3 H382.7 V1362.3 H385.9 V1362.3 H389.1 V1362.3 H392.3 V1362.3 H395.5 V1362.3 H398.7 V1362.3 H401.9 V1362.3 H405.1 V1362.3 H408.3 V1362.3 H411.5 V1362.3 H414.7 V1362.3 H417.9 V1362.3 H421.1 V1362.3 H424.3 V1362.3 H427.5 V1362.3 H430.7 V1362.3 H433.9 V1362.3 H437.1 V1362.3 H440.3 V1362.3 H443.5 V1362.3 H446.7 V1362.3 H449.9 V1362.3 H453.1 V1362.3 H456.3 V1362.3 H459.5 V1362.3 H462.7 V1362.3 H465.9 V1362.3 H469.1 V1362.3 H472.3 V1362.3 H475.5 V1362.3 H478.7 V1362.3 H481.9 V1362.3 H485.1 V1362.3 H488.3 V1362.3 H491.5 V1360.2 H494.7 V1360.2 H497.9 V1360.2 H501.1 V1360.2 H504.3 V1360.2 H507.5 V1360.2 H510.7 V1360.2 H513.9 V1360.2 H517.1 V1360.2 H520.3 V1360.2 H523.5 V1360.2 H526.7 V1360.2 H529.9 V1360.2 H533.1 V1360.2 H536.3 V1360.2 H539.5 V1360.2 H542.7 V1360.2 H545.9 V1360.2 H549.1 V1358.7 H552.3 V1358.7 H555.5 V1358.7 H558.7 V1358.7 H561.9 V1358.7 H565.1 V1358.7 H568.3 V1358.7 H571.5 V1358.7 H574.7 V1358.7 H577.9 V1358.7 H581.1 V1358.7 H584.3 V1358.7 H587.5 V1358.7 H590.7 V1358.7 H593.9 V1358.7 H597.1 V1358.7 H600.3 V1358.7 H603.5 V1358.7 H606.7 V1358.7 H609.9 V1358.7 H613.1 V1358.7 H616.3 V1358.7 H619.5 V1358.7 H622.7 V1358.7 H625.9 V1361.2 H629.1 V1361.2 H632.3 V1361.2 H635.5 V1361.2 H638.7 V1361.2 H641.9 V1361.2 H645.1 V1361.2 H648.3 V1360.5 H651.5 V1360.5 H654.7 V1360.5 H657.9 V1360.5 H661.1 V1360.5 H664.3 V1360.5 H667.5 V1360.5 H670.7 V1361.2 H673.9 V1361.2 H677.1 V1361.2 H680.3 V1361.2 H683.5 V1361.2 H686.7 V1361.2 H689.9 V1361.2 H693.1 V1361.2 H696.3 V1361.2 H699.5 V1361.2 H702.7 V1361.2 H705.9 V1361.2 H709.1 V1361.2 H712.3 V1361.2 H715.5 V1361.2 H718.7 V1361.2 H721.9 V1361.2 H725.1 V1361.2 H728.3 V1361.2 H731.5 V1361.2 H734.7 V1361.2 H737.9 V1361.2 H741.1 V1361.2 H744.3 V1361.2 H747.5 V1361.2 H750.7 V1361.2 H753.9 V1361.7 H757.1 V1363 H760.3 V1363 H763.5 V1363 H766.7 V1363 H769.9 V1363 H773.1 V1363 H776.3 V1363 H779.5 V1363 H782.7 V1362.7 H785.9 V1361.2 H789.1 V1361.2 H792.3 V1361.2 H795.5 V1361.2 H798.7 V1361.2 H801.9 V1361.2 H805.1 V1361.2 H808.3 V1361.2 H811.5 V1361.2 H814.7 V1361.2 H817.9 V1361.2 H821.1 V1361.2 H824.3 V1361.2 H827.5 V1361.2 H830.7 V1361.2 H833.9 V1361.2 H837.1 V1361.2 H840.3 V1361.2 H843.5 V1360.2 H846.7 V1360.2 H849.9 V1360.2 H853.1 V1360.2 H856.3 V1360.2 H859.5 V1360.2 H862.7 V1360.2 H865.9 V1360.2 H869.1 V1360.2 H872.3 V1360.2 H875.5 V1360.2 H878.7 V1360.2 H881.9 V1360.2 H885.1 V1360.2 H888.3 V1360.2 H891.5 V1360.2 H894.7 V1360.2 H897.9 V1360.2 H901.1 V1360.2 H904.3 V1360.2 H907.5 V1360.2 H910.7 V1360.2 H913.9 V1360.2 H917.1 V1360.2 H920.3 V1360.2 H923.5 V1360.2 H926.7 V1357.5 H929.9 V1357.4 H933.1 V1357.4 H936.3 V1357.3 H939.5 V1357.3 H942.7 V1357.2 H945.9 V1357.2 H949.1 V1357.1 H952.3 V1357.1 H955.5 V1357 H958.7 V1357 H961.9 V1357.1 H965.1 V1357.1 H968.3 V1357.2 H971.5 V1357.3 H974.7 V1357.3 H977.9 V1357.4 H981.1 V1357.5 H984.3 V1358.2 H987.5 V1359 H990.7 V1359 H993.9 V1359 H997.1 V1359 H1000.3 V1359 H1003.5 V1359 H1006.7 V1359 H1009.9 V1359 H1013.1 V1359 H1016.3 V1359 H1019.5 V1359 H1022.7 V1359 H1025.9 V1359 H1029.1 V1359 H1032.3 V1359 H1035.5 V1359 H1038.7 V1359 H1041.9 V1359 H1045.1 V1359 H1048.3 V1359 H1051.5 V1359 H1054.7 V1359 H1057.9 V1359 H1061.1 V1359 H1064.3 V1359 H1067.5 V1359 H1070.7 V1359 H1073.9 V1359 H1077.1 V1359 H1080.3 V1359 H1083.5 V1359 H1086.7 V1359 H1089.9 V1359 H1093.1 V1359 H1096.3 V1359 H1099.5 V1359 H1102.7 V1359 H1105.9 V1359 H1109.1 V1359 H1112.3 V1359 H1115.5 V1359 H1118.7 V1359 H1121.9 V1359 H1125.1 V1359 H1128.3 V1359 H1131.5 V1359 H1134.7 V1359 H1137.9 V1359 H1141.1 V1359 H1144.3 V1359 H1147.5 V1359 H1150.7 V1359 H1153.9 V1359 H1157.1 V1359 H1160.3 V1359 H1163.5 V1359 H1166.7 V1359 H1169.9 V1359 H1173.1 V1359 H1176.3 V1359 H1179.5 V1359 H1182.7 V1359 H1185.9 V1359 H1189.1 V1359 H1192.3 V1359 H1195.5 V1359 H1198.7 V1359 H1201.9 V1359 H1205.1 V1361.2 H1208.3 V1361.2 H1211.5 V1361.2 H1214.7 V1361.2 H1217.9 V1361.2 H1221.1 V1358.7 H1224.3 V1358.7 H1227.5 V1358.7 H1230.7 V1358.7 H1233.9 V1358.7 H1237.1 V1358.7 H1240.3 V1358.7 H1243.5 V1355 H1246.7 V1353.6 H1249.9 V1352.2 H1253.1 V1350.3 H1256.3 V1348.3 H1259.5 V1346.3 H1262.7 V1344.3 H1265.9 V1342.8 H1269.1 V1341.3 H1272.3 V1339.9 H1275.5 V1338.8 H1278.7 V1337.8 H1281.9 V1336.9 H1285.1 V1336 H1288.3 V1335.5 H1291.5 V1335.2 H1294.7 V1335 H1297.9 V1333.8 H1301.1 V1332.4 H1304.3 V1333.6 H1307.5 V1334 H1310.7 V1332.1 H1313.9 V1331 H1317.1 V1331.7 H1320.3 V1332.4 H1323.5 V1333.9 H1326.7 V1335.9 H1329.9 V1338.8 H1333.1 V1340.6 H1336.3 V1342.3 H1339.5 V1344.1 H1342.7 V1345.4 H1345.9 V1346.5 H1349.1 V1347.6 H1352.3 V1348.8 H1355.5 V1350.2 H1358.7 V1351.7 H1361.9 V1353.1 H1365.1 V1353.9 H1368.3 V1354.6 H1371.5 V1355.3 H1374.7 V1356.2 H1377.9 V1357.2 H1381.1 V1358.3 H1384.3 V1361.2 H1387.5 V1361.2 H1390.7 V1361.2 H1393.9 V1361.2 H1397.1 V1361.2 H1400.3 V1358.7 H1403.5 V1358.7 H1406.7 V1358.7 H1409.9 V1358.7 H1413.1 V1358.7 H1416.3 V1358.7 H1419.5 V1358.7 H1422.7 V1358.7 H1425.9 V1358.7 H1429.1 V1358.7 H1432.3 V1358.7 H1435.5 V1355.3 H1438.7 V1355.3 H1441.9 V1355.3 H1445.1 V1355.3 H1448.3 V1355.3 H1451.5 V1355.3 H1454.7 V1354.2 H1457.9 V1351.7 H1461.1 V1351.7 H1464.3 V1351.7 H1467.5 V1351.7 H1470.7 V1351.7 H1473.9 V1353.8 H1477.1 V1353.8 H1480.3 V1353.8 H1483.5 V1353.8 H1486.7 V1351.7 H1489.9 V1351.7 H1493.1 V1353 H1496.3 V1353.6 H1499.5 V1353.6 H1502.7 V1353.6 H1505.9 V1353.6 H1509.1 V1353.6 H1512.3 V1353.6 H1515.5 V1353.6 H1518.7 V1353.6 H1521.9 V1353.6 H1525.1 V1353.6 H1528.3 V1353.6 H1531.5 V1353.8 H1534.7 V1355.1 H1537.9 V1355.1 H1541.1 V1355.1 H1544.3 V1355.1 H1547.5 V1355.1 H1550.7 V1355.1 H1553.9 V1355.1 H1557.1 V1355.1 H1560.3 V1353.6 H1563.5 V1353.6 H1566.7 V1353.6 H1569.9 V1353.6 H1573.1 V1353.6 H1576.3 V1353.6 H1579.5 V1353.6 H1582.7 V1353.6 H1585.9 V1352.7 H1589.1 V1349.8 H1592.3 V1349.7 H1595.5 V1349.6 H1598.7 V1349.5 H1601.9 V1348.4 H1605.1 V1348.4 H1608.3 V1348.4 H1611.5 V1346.5 H1614.7 V1346.5 H1617.9 V1346.6 H1621.1 V1346.6 H1624.3 V1346.6 H1627.5 V1346.9 H1630.7 V1347.9 H1633.9 V1348.4 H1637.1 V1348.4 H1640.3 V1348.4 H1643.5 V1348.4 H1646.7 V1348.4 H1649.9 V1347.3 H1653.1 V1347 H1656.3 V1347.7 H1659.5 V1348.4 H1662.7 V1349.1 H1665.9 V1350.2 H1669.1 V1351.4 H1672.3 V1352.5 H1675.5 V1352.9 H1678.7 V1352.9 H1681.9 V1352.9 H1685.1 V1352.5 H1688.3 V1352 H1691.5 V1351.4 H1694.7 V1350.8 H1697.9 V1350.2 H1701.1 V1350.4 H1704.3 V1351.4 H1707.5 V1352.3 H1710.7 V1352.6 H1713.9 V1351.7 H1717.1 V1350.9 H1720.3 V1350.3 H1723.5 V1349.9 H1726.7 V1349.4 H1729.9 V1348.9 H1733.1 V1348.6 H1736.3 V1348.3 H1739.5 V1348.1 H1742.7 V1348.1 H1745.9 V1348.1 H1749.1 V1348.1 H1752.3 V1348.1 H1755.5 V1348.1 H1758.7 V1348.1 H1761.9 V1348.1 H1765.1 V1348.1 H1765.2 V1368.9 Z" fill="#4e44a5"/>
<line x1="203.5" y1="1368.5" x2="1765.2" y2="1368.5" stroke="#2d2878" stroke-width="1.2"/>
<rect x="203.5" y="1355.5" width="1561.7" height="3.6" fill="rgb(238,238,110)" fill-opacity="0.72"/>
<rect x="203.5" y="1294.4" width="196.7" height="24.5" fill="#f7c765"/>
<text x="205.8" y="1313.6" font-family="'Liberation Sans', Arial, sans-serif" font-weight="bold" font-size="21" fill="#111" textLength="192.2" lengthAdjust="spacingAndGlyphs">UP07448me1:24439</text>
<path d="M203.5 1446.4 V1427 H206.7 V1427 H209.9 V1427 H213.1 V1427 H216.3 V1427 H219.5 V1431.3 H222.7 V1431.3 H225.9 V1431.3 H229.1 V1431.3 H232.3 V1431.3 H235.5 V1431.3 H238.7 V1431.3 H241.9 V1431.3 H245.1 V1431.3 H248.3 V1431.3 H251.5 V1431.3 H254.7 V1431.3 H257.9 V1431.3 H261.1 V1431.3 H264.3 V1431.3 H267.5 V1431.3 H270.7 V1431.3 H273.9 V1431.3 H277.1 V1431.3 H280.3 V1431.3 H283.5 V1431.3 H286.7 V1431.3 H289.9 V1431.3 H293.1 V1431.3 H296.3 V1431.3 H299.5 V1431.3 H302.7 V1431.3 H305.9 V1431.3 H309.1 V1431.3 H312.3 V1431.3 H315.5 V1431.3 H318.7 V1431.3 H321.9 V1431.3 H325.1 V1431.3 H328.3 V1431.3 H331.5 V1432.8 H334.7 V1432.8 H337.9 V1432.8 H341.1 V1432.8 H344.3 V1432.8 H347.5 V1432.7 H350.7 V1431.3 H353.9 V1431.3 H357.1 V1431.3 H360.3 V1431.3 H363.5 V1431.3 H366.7 V1431.3 H369.9 V1431.3 H373.1 V1431.3 H376.3 V1431.3 H379.5 V1431.3 H382.7 V1431.3 H385.9 V1431.3 H389.1 V1431.3 H392.3 V1431.3 H395.5 V1431.3 H398.7 V1431.3 H401.9 V1431.3 H405.1 V1431.3 H408.3 V1431.3 H411.5 V1431.3 H414.7 V1431.3 H417.9 V1431.3 H421.1 V1431.3 H424.3 V1431.3 H427.5 V1431.3 H430.7 V1431.3 H433.9 V1431.3 H437.1 V1431.3 H440.3 V1431.3 H443.5 V1431.3 H446.7 V1431.3 H449.9 V1431.3 H453.1 V1431.3 H456.3 V1431.3 H459.5 V1431.3 H462.7 V1431.3 H465.9 V1431.3 H469.1 V1431.3 H472.3 V1431.3 H475.5 V1431.3 H478.7 V1431.3 H481.9 V1431.3 H485.1 V1433.2 H488.3 V1433.2 H491.5 V1431.2 H494.7 V1431.1 H497.9 V1430.9 H501.1 V1430.8 H504.3 V1430.6 H507.5 V1430.4 H510.7 V1430.3 H513.9 V1430.1 H517.1 V1429.6 H520.3 V1428.3 H523.5 V1427 H526.7 V1425.7 H529.9 V1424.6 H533.1 V1423.7 H536.3 V1422.8 H539.5 V1421.9 H542.7 V1421 H545.9 V1420 H549.1 V1419.1 H552.3 V1418.8 H555.5 V1419.1 H558.7 V1419.5 H561.9 V1419.6 H565.1 V1419.6 H568.3 V1419.7 H571.5 V1419.7 H574.7 V1419.8 H577.9 V1419.8 H581.1 V1419.9 H584.3 V1419.9 H587.5 V1420 H590.7 V1420.5 H593.9 V1421.1 H597.1 V1421.7 H600.3 V1422.1 H603.5 V1422.2 H606.7 V1422.2 H609.9 V1422.3 H613.1 V1422.4 H616.3 V1428.5 H619.5 V1429.2 H622.7 V1429.2 H625.9 V1429.2 H629.1 V1429.2 H632.3 V1429.2 H635.5 V1429.2 H638.7 V1429.2 H641.9 V1429.2 H645.1 V1429.2 H648.3 V1429.2 H651.5 V1429.2 H654.7 V1429.2 H657.9 V1429.2 H661.1 V1429.2 H664.3 V1429.2 H667.5 V1429.2 H670.7 V1429.2 H673.9 V1429.2 H677.1 V1429.2 H680.3 V1429.2 H683.5 V1429.2 H686.7 V1429.2 H689.9 V1429.2 H693.1 V1429.2 H696.3 V1429.2 H699.5 V1429.9 H702.7 V1430.5 H705.9 V1430.5 H709.1 V1430.5 H712.3 V1430.5 H715.5 V1430.5 H718.7 V1430.3 H721.9 V1429.2 H725.1 V1429.2 H728.3 V1429.2 H731.5 V1429.2 H734.7 V1429.2 H737.9 V1429.2 H741.1 V1429.2 H744.3 V1429.2 H747.5 V1429.2 H750.7 V1429.2 H753.9 V1429.2 H757.1 V1429.2 H760.3 V1429.2 H763.5 V1429.2 H766.7 V1429.2 H769.9 V1429.2 H773.1 V1429.2 H776.3 V1429.2 H779.5 V1429.2 H782.7 V1429.2 H785.9 V1429.2 H789.1 V1429.2 H792.3 V1429.2 H795.5 V1429.2 H798.7 V1429.2 H801.9 V1426.7 H805.1 V1426.7 H808.3 V1426.7 H811.5 V1426.7 H814.7 V1426.7 H817.9 V1426.7 H821.1 V1426.7 H824.3 V1426.7 H827.5 V1426.7 H830.7 V1426.7 H833.9 V1426.7 H837.1 V1426.7 H840.3 V1426.7 H843.5 V1421.1 H846.7 V1420.1 H849.9 V1419.1 H853.1 V1418.1 H856.3 V1417.1 H859.5 V1416.1 H862.7 V1415.2 H865.9 V1414.2 H869.1 V1413.2 H872.3 V1412 H875.5 V1410.5 H878.7 V1409.1 H881.9 V1407.7 H885.1 V1406.3 H888.3 V1404.9 H891.5 V1403.5 H894.7 V1402.1 H897.9 V1400.7 H901.1 V1399.2 H904.3 V1397.8 H907.5 V1396.4 H910.7 V1396.4 H913.9 V1397.5 H917.1 V1398.6 H920.3 V1399.6 H923.5 V1399.3 H926.7 V1398.3 H929.9 V1397.3 H933.1 V1396.3 H936.3 V1395.3 H939.5 V1396.1 H942.7 V1396.9 H945.9 V1397.6 H949.1 V1398.4 H952.3 V1399.3 H955.5 V1400.5 H958.7 V1401.7 H961.9 V1402.9 H965.1 V1404.1 H968.3 V1405.3 H971.5 V1406.6 H974.7 V1407.9 H977.9 V1409.2 H981.1 V1409.2 H984.3 V1408.7 H987.5 V1408.2 H990.7 V1407.6 H993.9 V1407.4 H997.1 V1407.4 H1000.3 V1407.3 H1003.5 V1407.2 H1006.7 V1407.1 H1009.9 V1407.1 H1013.1 V1406.9 H1016.3 V1406.1 H1019.5 V1405.3 H1022.7 V1404.5 H1025.9 V1403.5 H1029.1 V1402.6 H1032.3 V1401.6 H1035.5 V1401 H1038.7 V1401 H1041.9 V1401 H1045.1 V1401 H1048.3 V1401 H1051.5 V1401 H1054.7 V1401 H1057.9 V1401 H1061.1 V1401 H1064.3 V1401 H1067.5 V1401 H1070.7 V1401.3 H1073.9 V1404.8 H1077.1 V1406 H1080.3 V1406.8 H1083.5 V1407.6 H1086.7 V1408.3 H1089.9 V1409.1 H1093.1 V1409.9 H1096.3 V1410.7 H1099.5 V1411.3 H1102.7 V1411.9 H1105.9 V1412.5 H1109.1 V1413.1 H1112.3 V1413.7 H1115.5 V1414.8 H1118.7 V1416 H1121.9 V1417.2 H1125.1 V1418.4 H1128.3 V1419.6 H1131.5 V1421.1 H1134.7 V1422.7 H1137.9 V1424.3 H1141.1 V1425.5 H1144.3 V1425.8 H1147.5 V1426 H1150.7 V1426.2 H1153.9 V1426.4 H1157.1 V1426.6 H1160.3 V1427.7 H1163.5 V1429 H1166.7 V1430.2 H1169.9 V1431.3 H1173.1 V1432.4 H1176.3 V1433.4 H1179.5 V1434.5 H1182.7 V1434.9 H1185.9 V1435.3 H1189.1 V1435.7 H1192.3 V1436.2 H1195.5 V1436.6 H1198.7 V1437 H1201.9 V1437.3 H1205.1 V1437.3 H1208.3 V1437.2 H1211.5 V1437.2 H1214.7 V1437.1 H1217.9 V1437.1 H1221.1 V1437.1 H1224.3 V1437 H1227.5 V1437.1 H1230.7 V1437.2 H1233.9 V1437.4 H1237.1 V1437.5 H1240.3 V1437.7 H1243.5 V1437.8 H1246.7 V1438 H1249.9 V1438.3 H1253.1 V1438.6 H1256.3 V1438.9 H1259.5 V1439.3 H1262.7 V1439.6 H1265.9 V1439.8 H1269.1 V1439.8 H1272.3 V1439.8 H1275.5 V1439.8 H1278.7 V1439.8 H1281.9 V1439.8 H1285.1 V1439.8 H1288.3 V1439.8 H1291.5 V1439.8 H1294.7 V1439.8 H1297.9 V1442 H1301.1 V1442 H1304.3 V1442 H1307.5 V1442 H1310.7 V1442 H1313.9 V1442 H1317.1 V1442 H1320.3 V1442 H1323.5 V1442 H1326.7 V1442 H1329.9 V1442 H1333.1 V1442 H1336.3 V1442 H1339.5 V1442 H1342.7 V1442 H1345.9 V1442 H1349.1 V1442 H1352.3 V1442 H1355.5 V1442 H1358.7 V1442 H1361.9 V1442 H1365.1 V1442 H1368.3 V1442 H1371.5 V1441 H1374.7 V1441 H1377.9 V1441 H1381.1 V1441 H1384.3 V1441 H1387.5 V1441 H1390.7 V1441 H1393.9 V1441 H1397.1 V1441 H1400.3 V1441 H1403.5 V1441 H1406.7 V1441 H1409.9 V1441 H1413.1 V1441 H1416.3 V1440 H1419.5 V1440 H1422.7 V1440 H1425.9 V1440 H1429.1 V1440 H1432.3 V1440 H1435.5 V1440 H1438.7 V1440 H1441.9 V1440 H1445.1 V1440 H1448.3 V1440 H1451.5 V1440 H1454.7 V1440 H1457.9 V1440 H1461.1 V1440 H1464.3 V1440 H1467.5 V1440 H1470.7 V1440 H1473.9 V1440.6 H1477.1 V1440.6 H1480.3 V1440.6 H1483.5 V1440.6 H1486.7 V1440.6 H1489.9 V1440.6 H1493.1 V1440.6 H1496.3 V1440.6 H1499.5 V1440.6 H1502.7 V1440.6 H1505.9 V1440.6 H1509.1 V1440.6 H1512.3 V1440.6 H1515.5 V1440.6 H1518.7 V1440.6 H1521.9 V1440.6 H1525.1 V1440.6 H1528.3 V1440.6 H1531.5 V1440.6 H1534.7 V1440.6 H1537.9 V1440.6 H1541.1 V1440.6 H1544.3 V1440.6 H1547.5 V1442.8 H1550.7 V1442.8 H1553.9 V1442.8 H1557.1 V1442.8 H1560.3 V1442.8 H1563.5 V1442.8 H1566.7 V1442.8 H1569.9 V1442.8 H1573.1 V1442.8 H1576.3 V1442.8 H1579.5 V1442.8 H1582.7 V1442.8 H1585.9 V1442.8 H1589.1 V1442.8 H1592.3 V1442.8 H1595.5 V1442.6 H1598.7 V1441.3 H1601.9 V1441.3 H1605.1 V1441.3 H1608.3 V1441.3 H1611.5 V1441.3 H1614.7 V1441.3 H1617.9 V1441.3 H1621.1 V1441.3 H1624.3 V1441.3 H1627.5 V1441.3 H1630.7 V1441.3 H1633.9 V1441.3 H1637.1 V1441.3 H1640.3 V1441.3 H1643.5 V1441.3 H1646.7 V1441.3 H1649.9 V1441.3 H1653.1 V1440.4 H1656.3 V1440 H1659.5 V1440 H1662.7 V1440 H1665.9 V1440 H1669.1 V1440 H1672.3 V1440 H1675.5 V1440 H1678.7 V1440 H1681.9 V1439.7 H1685.1 V1439.4 H1688.3 V1439.1 H1691.5 V1438.8 H1694.7 V1438.5 H1697.9 V1438.2 H1701.1 V1438 H1704.3 V1437.7 H1707.5 V1437.5 H1710.7 V1437.3 H1713.9 V1437.1 H1717.1 V1436.9 H1720.3 V1436.7 H1723.5 V1436.5 H1726.7 V1436.8 H1729.9 V1437.2 H1733.1 V1437.5 H1736.3 V1437.8 H1739.5 V1438.1 H1742.7 V1438.4 H1745.9 V1438.7 H1749.1 V1438.9 H1752.3 V1439.1 H1755.5 V1439.3 H1758.7 V1439.6 H1761.9 V1439.8 H1765.1 V1439.9 H1765.2 V1446.4 Z" fill="#4e44a5"/>
<line x1="203.5" y1="1446" x2="1765.2" y2="1446" stroke="#2d2878" stroke-width="1.2"/>
<rect x="203.5" y="1427.6" width="1561.7" height="3.6" fill="rgb(238,238,110)" fill-opacity="0.72"/>
<rect x="203.5" y="1372.5" width="196.3" height="24.5" fill="#f7c765"/>
<text x="205.8" y="1391.7" font-family="'Liberation Sans', Arial, sans-serif" font-weight="bold" font-size="21" fill="#111" textLength="191.8" lengthAdjust="spacingAndGlyphs">UP07449me3:24440</text>
<path d="M203.5 1524.2 V1520.7 H206.7 V1520.7 H209.9 V1520.7 H213.1 V1520.7 H216.3 V1520.7 H219.5 V1520.7 H222.7 V1520.7 H225.9 V1520.7 H229.1 V1519 H232.3 V1519 H235.5 V1519 H238.7 V1519 H241.9 V1519 H245.1 V1519 H248.3 V1519 H251.5 V1519 H254.7 V1519 H257.9 V1519 H261.1 V1519 H264.3 V1519 H267.5 V1519 H270.7 V1519 H273.9 V1519 H277.1 V1519 H280.3 V1519 H283.5 V1519 H286.7 V1519.2 H289.9 V1519.7 H293.1 V1519.7 H296.3 V1519.7 H299.5 V1519.7 H302.7 V1519.7 H305.9 V1521.8 H309.1 V1521.8 H312.3 V1521.8 H315.5 V1521.8 H318.7 V1521.8 H321.9 V1521.8 H325.1 V1521.8 H328.3 V1521.8 H331.5 V1521.8 H334.7 V1521.8 H337.9 V1521.8 H341.1 V1521.8 H344.3 V1520.3 H347.5 V1520.3 H350.7 V1520.3 H353.9 V1520.3 H357.1 V1520.3 H360.3 V1520.3 H363.5 V1520.3 H366.7 V1520.3 H369.9 V1520.3 H373.1 V1520.3 H376.3 V1520.3 H379.5 V1520.3 H382.7 V1520.3 H385.9 V1520.3 H389.1 V1520.3 H392.3 V1520.3 H395.5 V1520.3 H398.7 V1520.3 H401.9 V1520.3 H405.1 V1520.3 H408.3 V1520.3 H411.5 V1520.3 H414.7 V1520.3 H417.9 V1520.3 H421.1 V1520.3 H424.3 V1520.3 H427.5 V1520.3 H430.7 V1520.3 H433.9 V1520.3 H437.1 V1520.3 H440.3 V1520.3 H443.5 V1520.3 H446.7 V1520.3 H449.9 V1520.3 H453.1 V1520.3 H456.3 V1520.3 H459.5 V1520.3 H462.7 V1520.3 H465.9 V1520.3 H469.1 V1520.3 H472.3 V1520.3 H475.5 V1521.8 H478.7 V1521.8 H481.9 V1521.8 H485.1 V1521.8 H488.3 V1521.8 H491.5 V1519 H494.7 V1519 H497.9 V1519 H501.1 V1519 H504.3 V1519 H507.5 V1519 H510.7 V1519 H513.9 V1519 H517.1 V1519 H520.3 V1519 H523.5 V1519 H526.7 V1519 H529.9 V1519 H533.1 V1519 H536.3 V1519 H539.5 V1519 H542.7 V1519 H545.9 V1519 H549.1 V1519 H552.3 V1519 H555.5 V1519 H558.7 V1519 H561.9 V1519 H565.1 V1519 H568.3 V1519 H571.5 V1519 H574.7 V1519 H577.9 V1519 H581.1 V1519 H584.3 V1519 H587.5 V1519 H590.7 V1519 H593.9 V1519 H597.1 V1519 H600.3 V1519 H603.5 V1519 H606.7 V1519 H609.9 V1519 H613.1 V1519 H616.3 V1519 H619.5 V1519 H622.7 V1519 H625.9 V1519 H629.1 V1519 H632.3 V1519 H635.5 V1519 H638.7 V1519 H641.9 V1519 H645.1 V1519 H648.3 V1519 H651.5 V1519 H654.7 V1519 H657.9 V1519 H661.1 V1519 H664.3 V1519 H667.5 V1519 H670.7 V1519 H673.9 V1519 H677.1 V1519 H680.3 V1519 H683.5 V1519 H686.7 V1519 H689.9 V1519.7 H693.1 V1520.3 H696.3 V1520.3 H699.5 V1520.3 H702.7 V1520.3 H705.9 V1520.3 H709.1 V1520.3 H712.3 V1520.3 H715.5 V1520.3 H718.7 V1520.3 H721.9 V1520.3 H725.1 V1520.3 H728.3 V1520.3 H731.5 V1520.3 H734.7 V1520.3 H737.9 V1520.3 H741.1 V1519.4 H744.3 V1519 H747.5 V1519 H750.7 V1519 H753.9 V1519 H757.1 V1519 H760.3 V1519 H763.5 V1519 H766.7 V1519 H769.9 V1519 H773.1 V1519 H776.3 V1519 H779.5 V1519 H782.7 V1519 H785.9 V1519 H789.1 V1519 H792.3 V1519 H795.5 V1519 H798.7 V1519 H801.9 V1519 H805.1 V1519 H808.3 V1519 H811.5 V1519 H814.7 V1519 H817.9 V1519 H821.1 V1519 H824.3 V1519 H827.5 V1519 H830.7 V1519 H833.9 V1519 H837.1 V1519 H840.3 V1519 H843.5 V1515 H846.7 V1514.4 H849.9 V1513.8 H853.1 V1513.3 H856.3 V1512.7 H859.5 V1512.1 H862.7 V1511.5 H865.9 V1510.9 H869.1 V1510.3 H872.3 V1509.6 H875.5 V1509 H878.7 V1508.4 H881.9 V1507.8 H885.1 V1507.1 H888.3 V1506.6 H891.5 V1506 H894.7 V1505.4 H897.9 V1504.9 H901.1 V1504.3 H904.3 V1503.8 H907.5 V1503.3 H910.7 V1503 H913.9 V1502.8 H917.1 V1502.6 H920.3 V1502.4 H923.5 V1502.1 H926.7 V1501.9 H929.9 V1501.7 H933.1 V1501.5 H936.3 V1501.2 H939.5 V1501.1 H942.7 V1501 H945.9 V1500.9 H949.1 V1500.8 H952.3 V1500.6 H955.5 V1500.5 H958.7 V1500.4 H961.9 V1500.3 H965.1 V1500.2 H968.3 V1500.1 H971.5 V1499.9 H974.7 V1499.8 H977.9 V1499.7 H981.1 V1499.6 H984.3 V1499.6 H987.5 V1499.8 H990.7 V1500.1 H993.9 V1500.3 H997.1 V1500.5 H1000.3 V1500.8 H1003.5 V1501 H1006.7 V1501.3 H1009.9 V1501.5 H1013.1 V1502.1 H1016.3 V1502.7 H1019.5 V1503.4 H1022.7 V1504.1 H1025.9 V1504.8 H1029.1 V1505.4 H1032.3 V1506.1 H1035.5 V1506.7 H1038.7 V1507.3 H1041.9 V1508 H1045.1 V1508.6 H1048.3 V1509.1 H1051.5 V1509.4 H1054.7 V1509.8 H1057.9 V1510.1 H1061.1 V1510.4 H1064.3 V1510.7 H1067.5 V1511 H1070.7 V1511.4 H1073.9 V1511.7 H1077.1 V1512 H1080.3 V1512.2 H1083.5 V1512.4 H1086.7 V1512.5 H1089.9 V1512.6 H1093.1 V1512.7 H1096.3 V1512.8 H1099.5 V1512.9 H1102.7 V1513 H1105.9 V1513.1 H1109.1 V1513.2 H1112.3 V1513.4 H1115.5 V1513.7 H1118.7 V1514 H1121.9 V1514.3 H1125.1 V1514.6 H1128.3 V1514.9 H1131.5 V1515.2 H1134.7 V1515.8 H1137.9 V1518.2 H1141.1 V1518.6 H1144.3 V1518.6 H1147.5 V1518.6 H1150.7 V1518.6 H1153.9 V1518.6 H1157.1 V1518.6 H1160.3 V1518.6 H1163.5 V1518.6 H1166.7 V1518.6 H1169.9 V1520.5 H1173.1 V1520.5 H1176.3 V1520.5 H1179.5 V1520.5 H1182.7 V1520.5 H1185.9 V1520.5 H1189.1 V1520.5 H1192.3 V1520.5 H1195.5 V1520.5 H1198.7 V1520.5 H1201.9 V1520.5 H1205.1 V1520.5 H1208.3 V1520.5 H1211.5 V1520.5 H1214.7 V1520.5 H1217.9 V1520.5 H1221.1 V1520.5 H1224.3 V1520.5 H1227.5 V1520.5 H1230.7 V1520.5 H1233.9 V1520.5 H1237.1 V1520.5 H1240.3 V1520.5 H1243.5 V1520.5 H1246.7 V1520.5 H1249.9 V1520.5 H1253.1 V1520.5 H1256.3 V1520.5 H1259.5 V1520.5 H1262.7 V1520.5 H1265.9 V1520.5 H1269.1 V1520.5 H1272.3 V1520.5 H1275.5 V1520.5 H1278.7 V1520.5 H1281.9 V1520.5 H1285.1 V1520.5 H1288.3 V1520.5 H1291.5 V1520.5 H1294.7 V1520.5 H1297.9 V1520.5 H1301.1 V1520.5 H1304.3 V1520.5 H1307.5 V1520.5 H1310.7 V1520.5 H1313.9 V1520.5 H1317.1 V1520.5 H1320.3 V1520.5 H1323.5 V1520.5 H1326.7 V1520.5 H1329.9 V1520.5 H1333.1 V1520.5 H1336.3 V1520.5 H1339.5 V1520.5 H1342.7 V1519 H1345.9 V1519 H1349.1 V1519 H1352.3 V1519 H1355.5 V1519 H1358.7 V1520 H1361.9 V1520.5 H1365.1 V1520.5 H1368.3 V1520.5 H1371.5 V1520.5 H1374.7 V1520.5 H1377.9 V1520.5 H1381.1 V1520.5 H1384.3 V1520.5 H1387.5 V1520.5 H1390.7 V1520.5 H1393.9 V1520.5 H1397.1 V1520.5 H1400.3 V1520.5 H1403.5 V1520.5 H1406.7 V1520.5 H1409.9 V1520.5 H1413.1 V1520.5 H1416.3 V1520.5 H1419.5 V1523 H1422.7 V1523 H1425.9 V1523 H1429.1 V1523 H1432.3 V1523 H1435.5 V1523 H1438.7 V1522.2 H1441.9 V1521.8 H1445.1 V1521.8 H1448.3 V1521.8 H1451.5 V1521.8 H1454.7 V1521.8 H1457.9 V1521.8 H1461.1 V1521.8 H1464.3 V1521.8 H1467.5 V1521.8 H1470.7 V1521.8 H1473.9 V1521.8 H1477.1 V1521.8 H1480.3 V1521.8 H1483.5 V1521.8 H1486.7 V1521.8 H1489.9 V1521.8 H1493.1 V1521.8 H1496.3 V1521.8 H1499.5 V1521.8 H1502.7 V1521.8 H1505.9 V1521.8 H1509.1 V1521.8 H1512.3 V1521.8 H1515.5 V1521.8 H1518.7 V1521.8 H1521.9 V1521.8 H1525.1 V1521.8 H1528.3 V1521.8 H1531.5 V1521.8 H1534.7 V1521.8 H1537.9 V1521.8 H1541.1 V1521.8 H1544.3 V1521.8 H1547.5 V1521.8 H1550.7 V1521.8 H1553.9 V1521.8 H1557.1 V1521.8 H1560.3 V1521.8 H1563.5 V1521.8 H1566.7 V1521.8 H1569.9 V1521.8 H1573.1 V1521.8 H1576.3 V1521.8 H1579.5 V1521.8 H1582.7 V1521.8 H1585.9 V1521.8 H1589.1 V1521.8 H1592.3 V1521.8 H1595.5 V1521.8 H1598.7 V1521.8 H1601.9 V1521.8 H1605.1 V1521.8 H1608.3 V1521.8 H1611.5 V1521.8 H1614.7 V1521.8 H1617.9 V1521.8 H1621.1 V1521.8 H1624.3 V1521.8 H1627.5 V1521.8 H1630.7 V1521.8 H1633.9 V1521.8 H1637.1 V1521.8 H1640.3 V1521.8 H1643.5 V1521.8 H1646.7 V1521.8 H1649.9 V1522.4 H1653.1 V1523 H1656.3 V1523 H1659.5 V1523 H1662.7 V1523 H1665.9 V1523 H1669.1 V1523 H1672.3 V1521.8 H1675.5 V1521.8 H1678.7 V1521.8 H1681.9 V1521.8 H1685.1 V1521.8 H1688.3 V1521.8 H1691.5 V1521.8 H1694.7 V1521.8 H1697.9 V1521.8 H1701.1 V1521.8 H1704.3 V1521.8 H1707.5 V1521.8 H1710.7 V1521.8 H1713.9 V1521.8 H1717.1 V1521.8 H1720.3 V1521.8 H1723.5 V1521.8 H1726.7 V1521.8 H1729.9 V1521.8 H1733.1 V1521.8 H1736.3 V1521.8 H1739.5 V1521.8 H1742.7 V1521.8 H1745.9 V1521.8 H1749.1 V1521.8 H1752.3 V1521.8 H1755.5 V1521.8 H1758.7 V1521.8 H1761.9 V1521.8 H1765.1 V1521.8 H1765.2 V1524.2 Z" fill="#4e44a5"/>
<line x1="203.5" y1="1523.8" x2="1765.2" y2="1523.8" stroke="#2d2878" stroke-width="1.2"/>
<rect x="203.5" y="1515.8" width="1561.7" height="3.6" fill="rgb(238,238,110)" fill-opacity="0.72"/>
<rect x="203.5" y="1449.6" width="176.4" height="24.5" fill="#f7c765"/>
<text x="205.8" y="1468.8" font-family="'Liberation Sans', Arial, sans-serif" font-weight="bold" font-size="21" fill="#111" textLength="171.9" lengthAdjust="spacingAndGlyphs">HK00013me3:1E7</text>
<path d="M203.5 1599.8 V1589.8 H206.7 V1589.8 H209.9 V1589.8 H213.1 V1589.8 H216.3 V1589.8 H219.5 V1588.7 H222.7 V1588.7 H225.9 V1588.7 H229.1 V1588.7 H232.3 V1588.7 H235.5 V1588.7 H238.7 V1588.7 H241.9 V1588.7 H245.1 V1588.7 H248.3 V1588.7 H251.5 V1588.7 H254.7 V1588.7 H257.9 V1588.7 H261.1 V1588.7 H264.3 V1588.7 H267.5 V1588.7 H270.7 V1587 H273.9 V1587 H277.1 V1587 H280.3 V1587 H283.5 V1587 H286.7 V1587.5 H289.9 V1588.7 H293.1 V1588.7 H296.3 V1588.7 H299.5 V1588.7 H302.7 V1588.7 H305.9 V1588.7 H309.1 V1588.7 H312.3 V1588.7 H315.5 V1588.7 H318.7 V1588.7 H321.9 V1588.7 H325.1 V1588.7 H328.3 V1588.7 H331.5 V1588.7 H334.7 V1588.7 H337.9 V1592.5 H341.1 V1592.5 H344.3 V1592.5 H347.5 V1591.2 H350.7 V1591.2 H353.9 V1591.2 H357.1 V1591.2 H360.3 V1591.2 H363.5 V1591.2 H366.7 V1591.2 H369.9 V1591.2 H373.1 V1591.2 H376.3 V1591.2 H379.5 V1591.2 H382.7 V1591.2 H385.9 V1593 H389.1 V1593 H392.3 V1593 H395.5 V1593 H398.7 V1593 H401.9 V1593 H405.1 V1593 H408.3 V1593 H411.5 V1592 H414.7 V1592 H417.9 V1592 H421.1 V1592 H424.3 V1592 H427.5 V1592 H430.7 V1592 H433.9 V1589.8 H437.1 V1589.8 H440.3 V1589.8 H443.5 V1589.8 H446.7 V1589.8 H449.9 V1589.8 H453.1 V1589.8 H456.3 V1589.8 H459.5 V1589.8 H462.7 V1589.1 H465.9 V1587.6 H469.1 V1587.6 H472.3 V1587.6 H475.5 V1587.6 H478.7 V1587.6 H481.9 V1587.6 H485.1 V1587.6 H488.3 V1587.6 H491.5 V1587.6 H494.7 V1587.6 H497.9 V1587.6 H501.1 V1587.6 H504.3 V1587.6 H507.5 V1587.6 H510.7 V1587.6 H513.9 V1587.6 H517.1 V1587.6 H520.3 V1587.6 H523.5 V1587.6 H526.7 V1587.6 H529.9 V1587.6 H533.1 V1587.6 H536.3 V1587.6 H539.5 V1587.6 H542.7 V1587.6 H545.9 V1587.6 H549.1 V1587.6 H552.3 V1587.6 H555.5 V1587.6 H558.7 V1587.6 H561.9 V1587.6 H565.1 V1587.6 H568.3 V1587.6 H571.5 V1587.6 H574.7 V1587.6 H577.9 V1587.6 H581.1 V1587.6 H584.3 V1587.6 H587.5 V1587.6 H590.7 V1587.6 H593.9 V1587.6 H597.1 V1587.6 H600.3 V1587.6 H603.5 V1587.6 H606.7 V1587.6 H609.9 V1587.6 H613.1 V1587.6 H616.3 V1587.6 H619.5 V1587.6 H622.7 V1587.6 H625.9 V1590 H629.1 V1590 H632.3 V1591.9 H635.5 V1591.9 H638.7 V1591.9 H641.9 V1591.9 H645.1 V1591.9 H648.3 V1591.9 H651.5 V1591.9 H654.7 V1591.9 H657.9 V1591.9 H661.1 V1591.9 H664.3 V1591.9 H667.5 V1591.9 H670.7 V1591.9 H673.9 V1591.9 H677.1 V1591.9 H680.3 V1591.9 H683.5 V1591.9 H686.7 V1591.9 H689.9 V1591.9 H693.1 V1591.9 H696.3 V1591.9 H699.5 V1591.9 H702.7 V1591.9 H705.9 V1591.9 H709.1 V1591.9 H712.3 V1590.8 H715.5 V1590.8 H718.7 V1590.8 H721.9 V1590.8 H725.1 V1590.8 H728.3 V1590.8 H731.5 V1590.7 H734.7 V1589.8 H737.9 V1589.8 H741.1 V1589.8 H744.3 V1589.8 H747.5 V1589.8 H750.7 V1589.8 H753.9 V1589.8 H757.1 V1589.8 H760.3 V1589.8 H763.5 V1589.8 H766.7 V1589.8 H769.9 V1589.8 H773.1 V1589.8 H776.3 V1587.6 H779.5 V1587.6 H782.7 V1588.3 H785.9 V1589.8 H789.1 V1589.8 H792.3 V1589.8 H795.5 V1589.8 H798.7 V1589.8 H801.9 V1589.8 H805.1 V1589.8 H808.3 V1591.9 H811.5 V1591.9 H814.7 V1591.9 H817.9 V1591.9 H821.1 V1591.9 H824.3 V1591.9 H827.5 V1591.9 H830.7 V1591.9 H833.9 V1591.9 H837.1 V1591.9 H840.3 V1591.9 H843.5 V1591.2 H846.7 V1591.2 H849.9 V1591.2 H853.1 V1591.2 H856.3 V1591.2 H859.5 V1591.2 H862.7 V1591.2 H865.9 V1591.2 H869.1 V1591.2 H872.3 V1591.2 H875.5 V1591.2 H878.7 V1591.2 H881.9 V1591.2 H885.1 V1591.2 H888.3 V1591.2 H891.5 V1591.2 H894.7 V1591.2 H897.9 V1591.2 H901.1 V1591.2 H904.3 V1591.2 H907.5 V1592 H910.7 V1592 H913.9 V1592 H917.1 V1592 H920.3 V1592 H923.5 V1592 H926.7 V1592 H929.9 V1592 H933.1 V1592 H936.3 V1592 H939.5 V1592 H942.7 V1592 H945.9 V1592 H949.1 V1592 H952.3 V1592 H955.5 V1592 H958.7 V1592 H961.9 V1592 H965.1 V1592 H968.3 V1592 H971.5 V1592 H974.7 V1592 H977.9 V1592 H981.1 V1592 H984.3 V1592 H987.5 V1592 H990.7 V1592 H993.9 V1592 H997.1 V1592 H1000.3 V1592 H1003.5 V1592 H1006.7 V1592 H1009.9 V1592 H1013.1 V1592 H1016.3 V1592 H1019.5 V1592 H1022.7 V1592 H1025.9 V1595 H1029.1 V1595 H1032.3 V1595 H1035.5 V1595 H1038.7 V1595 H1041.9 V1595 H1045.1 V1595 H1048.3 V1595 H1051.5 V1595 H1054.7 V1595 H1057.9 V1595 H1061.1 V1595 H1064.3 V1595 H1067.5 V1595 H1070.7 V1595 H1073.9 V1595 H1077.1 V1595 H1080.3 V1595 H1083.5 V1595 H1086.7 V1595 H1089.9 V1595 H1093.1 V1595 H1096.3 V1595 H1099.5 V1595 H1102.7 V1595 H1105.9 V1595 H1109.1 V1595 H1112.3 V1595 H1115.5 V1595 H1118.7 V1595 H1121.9 V1595 H1125.1 V1595 H1128.3 V1595 H1131.5 V1595 H1134.7 V1595 H1137.9 V1595 H1141.1 V1595 H1144.3 V1595 H1147.5 V1595 H1150.7 V1595 H1153.9 V1595 H1157.1 V1595 H1160.3 V1595 H1163.5 V1595 H1166.7 V1595 H1169.9 V1598.2 H1173.1 V1597.9 H1176.3 V1597.7 H1179.5 V1597.4 H1182.7 V1597.2 H1185.9 V1597 H1189.1 V1596.7 H1192.3 V1596.5 H1195.5 V1596.2 H1198.7 V1595.9 H1201.9 V1595.6 H1205.1 V1595.2 H1208.3 V1594.9 H1211.5 V1594.6 H1214.7 V1594.2 H1217.9 V1593.9 H1221.1 V1593.4 H1224.3 V1592.9 H1227.5 V1592.4 H1230.7 V1592 H1233.9 V1591.5 H1237.1 V1591 H1240.3 V1590.2 H1243.5 V1589.2 H1246.7 V1588.2 H1249.9 V1587.2 H1253.1 V1586.2 H1256.3 V1584.9 H1259.5 V1582.9 H1262.7 V1580.9 H1265.9 V1579.5 H1269.1 V1578.5 H1272.3 V1577.4 H1275.5 V1576.4 H1278.7 V1575.3 H1281.9 V1574.7 H1285.1 V1574.1 H1288.3 V1573.4 H1291.5 V1572.8 H1294.7 V1572.2 H1297.9 V1571.5 H1301.1 V1570.9 H1304.3 V1570.2 H1307.5 V1570.1 H1310.7 V1570.1 H1313.9 V1570.1 H1317.1 V1570.1 H1320.3 V1570.7 H1323.5 V1571.7 H1326.7 V1572.7 H1329.9 V1573.6 H1333.1 V1574.9 H1336.3 V1576.5 H1339.5 V1578.1 H1342.7 V1579.5 H1345.9 V1580 H1349.1 V1580.5 H1352.3 V1581.1 H1355.5 V1581.6 H1358.7 V1581.9 H1361.9 V1581.4 H1365.1 V1580.9 H1368.3 V1580.3 H1371.5 V1579.8 H1374.7 V1579.2 H1377.9 V1578.1 H1381.1 V1577.1 H1384.3 V1576.1 H1387.5 V1575.8 H1390.7 V1575.5 H1393.9 V1574.1 H1397.1 V1570.8 H1400.3 V1567.6 H1403.5 V1565.6 H1406.7 V1563.6 H1409.9 V1561.6 H1413.1 V1559.9 H1416.3 V1558.5 H1419.5 V1557 H1422.7 V1555.6 H1425.9 V1554.1 H1429.1 V1553.5 H1432.3 V1553.4 H1435.5 V1553.2 H1438.7 V1553.1 H1441.9 V1552.9 H1445.1 V1552.7 H1448.3 V1552.4 H1451.5 V1552.1 H1454.7 V1551.9 H1457.9 V1551.6 H1461.1 V1551.3 H1464.3 V1551 H1467.5 V1552.2 H1470.7 V1553.3 H1473.9 V1554.5 H1477.1 V1555.7 H1480.3 V1556.8 H1483.5 V1557.6 H1486.7 V1558.4 H1489.9 V1559.2 H1493.1 V1560 H1496.3 V1560.8 H1499.5 V1561.6 H1502.7 V1562.4 H1505.9 V1563.3 H1509.1 V1564.5 H1512.3 V1565.7 H1515.5 V1566.8 H1518.7 V1568.1 H1521.9 V1569.7 H1525.1 V1571.3 H1528.3 V1572.9 H1531.5 V1574.4 H1534.7 V1575.7 H1537.9 V1577 H1541.1 V1578.3 H1544.3 V1579.5 H1547.5 V1580.1 H1550.7 V1580.7 H1553.9 V1581.4 H1557.1 V1582 H1560.3 V1581.9 H1563.5 V1581.8 H1566.7 V1581.7 H1569.9 V1581.6 H1573.1 V1581.5 H1576.3 V1581.4 H1579.5 V1581.3 H1582.7 V1581.2 H1585.9 V1581.1 H1589.1 V1581 H1592.3 V1580.9 H1595.5 V1580.7 H1598.7 V1580.5 H1601.9 V1580.2 H1605.1 V1580 H1608.3 V1579.7 H1611.5 V1579.4 H1614.7 V1579.1 H1617.9 V1578.8 H1621.1 V1578.5 H1624.3 V1578.2 H1627.5 V1577.9 H1630.7 V1577.6 H1633.9 V1577.2 H1637.1 V1576.8 H1640.3 V1576.4 H1643.5 V1576 H1646.7 V1575.6 H1649.9 V1575.2 H1653.1 V1574.7 H1656.3 V1574.3 H1659.5 V1574.2 H1662.7 V1574.4 H1665.9 V1574.6 H1669.1 V1574.8 H1672.3 V1574.9 H1675.5 V1575.1 H1678.7 V1575.3 H1681.9 V1575.5 H1685.1 V1575.7 H1688.3 V1575.9 H1691.5 V1576.4 H1694.7 V1577.2 H1697.9 V1578 H1701.1 V1578.8 H1704.3 V1579.6 H1707.5 V1580.4 H1710.7 V1581.2 H1713.9 V1582 H1717.1 V1582.8 H1720.3 V1583.6 H1723.5 V1584.5 H1726.7 V1585.3 H1729.9 V1586.1 H1733.1 V1586.9 H1736.3 V1587.5 H1739.5 V1587.8 H1742.7 V1588.1 H1745.9 V1588.4 H1749.1 V1588.7 H1752.3 V1589 H1755.5 V1589.3 H1758.7 V1589.6 H1761.9 V1589.8 H1765.1 V1590 H1765.2 V1599.8 Z" fill="#4e44a5"/>
<line x1="203.5" y1="1599.4" x2="1765.2" y2="1599.4" stroke="#2d2878" stroke-width="1.2"/>
<rect x="203.5" y="1584.6" width="1561.7" height="3.6" fill="rgb(238,238,110)" fill-opacity="0.72"/>
<rect x="203.5" y="1528.2" width="152.6" height="24.5" fill="#f7c765"/>
<text x="205.8" y="1547.4" font-family="'Liberation Sans', Arial, sans-serif" font-weight="bold" font-size="21" fill="#111" textLength="148.1" lengthAdjust="spacingAndGlyphs">WA30634849ac</text>
<rect x="559" y="1583.6" width="38" height="1.6" fill="#3a3590"/>
<line x1="1030.6" y1="1320" x2="1030.6" y2="1368.2" stroke="#101010" stroke-width="1.5"/><line x1="1028" y1="1320" x2="1030.6" y2="1320" stroke="#101010" stroke-width="1"/><line x1="1028" y1="1323.4" x2="1030.6" y2="1323.4" stroke="#101010" stroke-width="1"/><line x1="1028" y1="1326.9" x2="1030.6" y2="1326.9" stroke="#101010" stroke-width="1"/><line x1="1028" y1="1330.3" x2="1030.6" y2="1330.3" stroke="#101010" stroke-width="1"/><line x1="1028" y1="1333.8" x2="1030.6" y2="1333.8" stroke="#101010" stroke-width="1"/><line x1="1028" y1="1337.2" x2="1030.6" y2="1337.2" stroke="#101010" stroke-width="1"/><line x1="1028" y1="1340.7" x2="1030.6" y2="1340.7" stroke="#101010" stroke-width="1"/><line x1="1028" y1="1344.1" x2="1030.6" y2="1344.1" stroke="#101010" stroke-width="1"/><line x1="1028" y1="1347.5" x2="1030.6" y2="1347.5" stroke="#101010" stroke-width="1"/><line x1="1028" y1="1351" x2="1030.6" y2="1351" stroke="#101010" stroke-width="1"/><line x1="1028" y1="1354.4" x2="1030.6" y2="1354.4" stroke="#101010" stroke-width="1"/><line x1="1028" y1="1357.9" x2="1030.6" y2="1357.9" stroke="#101010" stroke-width="1"/><line x1="1028" y1="1361.3" x2="1030.6" y2="1361.3" stroke="#101010" stroke-width="1"/><line x1="1028" y1="1364.8" x2="1030.6" y2="1364.8" stroke="#101010" stroke-width="1"/><line x1="1028" y1="1368.2" x2="1030.6" y2="1368.2" stroke="#101010" stroke-width="1"/><line x1="1030.6" y1="1320" x2="1034" y2="1320" stroke="#101010" stroke-width="1.3"/><line x1="1030.6" y1="1344.8" x2="1034" y2="1344.8" stroke="#101010" stroke-width="1.3"/><line x1="1030.6" y1="1368.2" x2="1034" y2="1368.2" stroke="#101010" stroke-width="1.3"/><text x="1037.5" y="1324" font-family="'Liberation Mono', 'DejaVu Sans Mono', monospace" font-size="17" fill="#101010" textLength="21" lengthAdjust="spacingAndGlyphs">97</text><text x="1037.5" y="1350.8" font-family="'Liberation Mono', 'DejaVu Sans Mono', monospace" font-size="17" fill="#101010" textLength="42" lengthAdjust="spacingAndGlyphs">48.5</text><text x="1039" y="1374.2" font-family="'Liberation Mono', 'DejaVu Sans Mono', monospace" font-size="17" fill="#101010" textLength="10" lengthAdjust="spacingAndGlyphs">0</text>
<line x1="1030.6" y1="1397" x2="1030.6" y2="1445.7" stroke="#101010" stroke-width="1.5"/><line x1="1028" y1="1397" x2="1030.6" y2="1397" stroke="#101010" stroke-width="1"/><line x1="1028" y1="1400.5" x2="1030.6" y2="1400.5" stroke="#101010" stroke-width="1"/><line x1="1028" y1="1404" x2="1030.6" y2="1404" stroke="#101010" stroke-width="1"/><line x1="1028" y1="1407.4" x2="1030.6" y2="1407.4" stroke="#101010" stroke-width="1"/><line x1="1028" y1="1410.9" x2="1030.6" y2="1410.9" stroke="#101010" stroke-width="1"/><line x1="1028" y1="1414.4" x2="1030.6" y2="1414.4" stroke="#101010" stroke-width="1"/><line x1="1028" y1="1417.9" x2="1030.6" y2="1417.9" stroke="#101010" stroke-width="1"/><line x1="1028" y1="1421.3" x2="1030.6" y2="1421.3" stroke="#101010" stroke-width="1"/><line x1="1028" y1="1424.8" x2="1030.6" y2="1424.8" stroke="#101010" stroke-width="1"/><line x1="1028" y1="1428.3" x2="1030.6" y2="1428.3" stroke="#101010" stroke-width="1"/><line x1="1028" y1="1431.8" x2="1030.6" y2="1431.8" stroke="#101010" stroke-width="1"/><line x1="1028" y1="1435.3" x2="1030.6" y2="1435.3" stroke="#101010" stroke-width="1"/><line x1="1028" y1="1438.7" x2="1030.6" y2="1438.7" stroke="#101010" stroke-width="1"/><line x1="1028" y1="1442.2" x2="1030.6" y2="1442.2" stroke="#101010" stroke-width="1"/><line x1="1028" y1="1445.7" x2="1030.6" y2="1445.7" stroke="#101010" stroke-width="1"/><line x1="1030.6" y1="1397" x2="1034" y2="1397" stroke="#101010" stroke-width="1.3"/><line x1="1030.6" y1="1422.3" x2="1034" y2="1422.3" stroke="#101010" stroke-width="1.3"/><line x1="1030.6" y1="1445.7" x2="1034" y2="1445.7" stroke="#101010" stroke-width="1.3"/><text x="1037.5" y="1401" font-family="'Liberation Mono', 'DejaVu Sans Mono', monospace" font-size="17" fill="#101010" textLength="21" lengthAdjust="spacingAndGlyphs">97</text><text x="1037.5" y="1428.3" font-family="'Liberation Mono', 'DejaVu Sans Mono', monospace" font-size="17" fill="#101010" textLength="42" lengthAdjust="spacingAndGlyphs">48.5</text><text x="1039" y="1451.7" font-family="'Liberation Mono', 'DejaVu Sans Mono', monospace" font-size="17" fill="#101010" textLength="10" lengthAdjust="spacingAndGlyphs">0</text>
<line x1="1030.6" y1="1476" x2="1030.6" y2="1523.9" stroke="#101010" stroke-width="1.5"/><line x1="1028" y1="1476" x2="1030.6" y2="1476" stroke="#101010" stroke-width="1"/><line x1="1028" y1="1479.4" x2="1030.6" y2="1479.4" stroke="#101010" stroke-width="1"/><line x1="1028" y1="1482.8" x2="1030.6" y2="1482.8" stroke="#101010" stroke-width="1"/><line x1="1028" y1="1486.3" x2="1030.6" y2="1486.3" stroke="#101010" stroke-width="1"/><line x1="1028" y1="1489.7" x2="1030.6" y2="1489.7" stroke="#101010" stroke-width="1"/><line x1="1028" y1="1493.1" x2="1030.6" y2="1493.1" stroke="#101010" stroke-width="1"/><line x1="1028" y1="1496.5" x2="1030.6" y2="1496.5" stroke="#101010" stroke-width="1"/><line x1="1028" y1="1500" x2="1030.6" y2="1500" stroke="#101010" stroke-width="1"/><line x1="1028" y1="1503.4" x2="1030.6" y2="1503.4" stroke="#101010" stroke-width="1"/><line x1="1028" y1="1506.8" x2="1030.6" y2="1506.8" stroke="#101010" stroke-width="1"/><line x1="1028" y1="1510.2" x2="1030.6" y2="1510.2" stroke="#101010" stroke-width="1"/><line x1="1028" y1="1513.6" x2="1030.6" y2="1513.6" stroke="#101010" stroke-width="1"/><line x1="1028" y1="1517.1" x2="1030.6" y2="1517.1" stroke="#101010" stroke-width="1"/><line x1="1028" y1="1520.5" x2="1030.6" y2="1520.5" stroke="#101010" stroke-width="1"/><line x1="1028" y1="1523.9" x2="1030.6" y2="1523.9" stroke="#101010" stroke-width="1"/><line x1="1030.6" y1="1476" x2="1034" y2="1476" stroke="#101010" stroke-width="1.3"/><line x1="1030.6" y1="1499.5" x2="1034" y2="1499.5" stroke="#101010" stroke-width="1.3"/><line x1="1030.6" y1="1523.9" x2="1034" y2="1523.9" stroke="#101010" stroke-width="1.3"/><text x="1037.5" y="1480" font-family="'Liberation Mono', 'DejaVu Sans Mono', monospace" font-size="17" fill="#101010" textLength="21" lengthAdjust="spacingAndGlyphs">97</text><text x="1037.5" y="1505.5" font-family="'Liberation Mono', 'DejaVu Sans Mono', monospace" font-size="17" fill="#101010" textLength="42" lengthAdjust="spacingAndGlyphs">48.5</text><text x="1039" y="1529.9" font-family="'Liberation Mono', 'DejaVu Sans Mono', monospace" font-size="17" fill="#101010" textLength="10" lengthAdjust="spacingAndGlyphs">0</text>
<line x1="1030.6" y1="1552.5" x2="1030.6" y2="1598" stroke="#101010" stroke-width="1.5"/><line x1="1028" y1="1552.5" x2="1030.6" y2="1552.5" stroke="#101010" stroke-width="1"/><line x1="1028" y1="1555.8" x2="1030.6" y2="1555.8" stroke="#101010" stroke-width="1"/><line x1="1028" y1="1559" x2="1030.6" y2="1559" stroke="#101010" stroke-width="1"/><line x1="1028" y1="1562.2" x2="1030.6" y2="1562.2" stroke="#101010" stroke-width="1"/><line x1="1028" y1="1565.5" x2="1030.6" y2="1565.5" stroke="#101010" stroke-width="1"/><line x1="1028" y1="1568.8" x2="1030.6" y2="1568.8" stroke="#101010" stroke-width="1"/><line x1="1028" y1="1572" x2="1030.6" y2="1572" stroke="#101010" stroke-width="1"/><line x1="1028" y1="1575.2" x2="1030.6" y2="1575.2" stroke="#101010" stroke-width="1"/><line x1="1028" y1="1578.5" x2="1030.6" y2="1578.5" stroke="#101010" stroke-width="1"/><line x1="1028" y1="1581.8" x2="1030.6" y2="1581.8" stroke="#101010" stroke-width="1"/><line x1="1028" y1="1585" x2="1030.6" y2="1585" stroke="#101010" stroke-width="1"/><line x1="1028" y1="1588.2" x2="1030.6" y2="1588.2" stroke="#101010" stroke-width="1"/><line x1="1028" y1="1591.5" x2="1030.6" y2="1591.5" stroke="#101010" stroke-width="1"/><line x1="1028" y1="1594.8" x2="1030.6" y2="1594.8" stroke="#101010" stroke-width="1"/><line x1="1028" y1="1598" x2="1030.6" y2="1598" stroke="#101010" stroke-width="1"/><line x1="1030.6" y1="1552.5" x2="1034" y2="1552.5" stroke="#101010" stroke-width="1.3"/><line x1="1030.6" y1="1576" x2="1034" y2="1576" stroke="#101010" stroke-width="1.3"/><line x1="1030.6" y1="1598" x2="1034" y2="1598" stroke="#101010" stroke-width="1.3"/><text x="1037.5" y="1556.5" font-family="'Liberation Mono', 'DejaVu Sans Mono', monospace" font-size="17" fill="#101010" textLength="21" lengthAdjust="spacingAndGlyphs">97</text><text x="1037.5" y="1582" font-family="'Liberation Mono', 'DejaVu Sans Mono', monospace" font-size="17" fill="#101010" textLength="42" lengthAdjust="spacingAndGlyphs">48.5</text><text x="1039" y="1604" font-family="'Liberation Mono', 'DejaVu Sans Mono', monospace" font-size="17" fill="#101010" textLength="10" lengthAdjust="spacingAndGlyphs">0</text>
</g>
<g clip-path="url(#cpb)"><use href="#pb" filter="url(#hl)"/></g>
<rect x="842.4" y="1659.8" width="327.6" height="2.6" fill="#c6f0b8"/>
<g stroke="#ededf5" stroke-width="2"><line x1="289.2" y1="1601" x2="289.2" y2="1659"/><line x1="307.4" y1="1601" x2="307.4" y2="1659"/><line x1="325.7" y1="1601" x2="325.7" y2="1659"/><line x1="343.9" y1="1601" x2="343.9" y2="1659"/><line x1="362.2" y1="1601" x2="362.2" y2="1659"/><line x1="380.4" y1="1601" x2="380.4" y2="1659"/><line x1="398.7" y1="1601" x2="398.7" y2="1659"/><line x1="416.9" y1="1601" x2="416.9" y2="1659"/><line x1="435.2" y1="1601" x2="435.2" y2="1659"/><line x1="453.4" y1="1601" x2="453.4" y2="1659"/><line x1="471.6" y1="1601" x2="471.6" y2="1659"/><line x1="489.9" y1="1601" x2="489.9" y2="1659"/><line x1="508.1" y1="1601" x2="508.1" y2="1659"/><line x1="526.4" y1="1601" x2="526.4" y2="1659"/><line x1="544.6" y1="1601" x2="544.6" y2="1659"/><line x1="562.9" y1="1601" x2="562.9" y2="1659"/><line x1="581.1" y1="1601" x2="581.1" y2="1659"/><line x1="599.4" y1="1601" x2="599.4" y2="1659"/><line x1="617.6" y1="1601" x2="617.6" y2="1659"/><line x1="635.9" y1="1601" x2="635.9" y2="1659"/><line x1="654.1" y1="1601" x2="654.1" y2="1659"/><line x1="672.3" y1="1601" x2="672.3" y2="1659"/><line x1="690.6" y1="1601" x2="690.6" y2="1659"/><line x1="708.8" y1="1601" x2="708.8" y2="1659"/><line x1="727.1" y1="1601" x2="727.1" y2="1659"/><line x1="745.3" y1="1601" x2="745.3" y2="1659"/><line x1="763.6" y1="1601" x2="763.6" y2="1659"/><line x1="781.8" y1="1601" x2="781.8" y2="1659"/><line x1="800.1" y1="1601" x2="800.1" y2="1659"/><line x1="818.3" y1="1601" x2="818.3" y2="1659"/><line x1="836.5" y1="1601" x2="836.5" y2="1659"/><line x1="854.8" y1="1601" x2="854.8" y2="1659"/><line x1="873" y1="1601" x2="873" y2="1659"/><line x1="891.3" y1="1601" x2="891.3" y2="1659"/><line x1="909.5" y1="1601" x2="909.5" y2="1659"/><line x1="927.8" y1="1601" x2="927.8" y2="1659"/><line x1="946" y1="1601" x2="946" y2="1659"/><line x1="964.3" y1="1601" x2="964.3" y2="1659"/><line x1="982.5" y1="1601" x2="982.5" y2="1659"/><line x1="1000.8" y1="1601" x2="1000.8" y2="1659"/><line x1="1019" y1="1601" x2="1019" y2="1659"/><line x1="1037.2" y1="1601" x2="1037.2" y2="1659"/><line x1="1055.5" y1="1601" x2="1055.5" y2="1659"/><line x1="1073.7" y1="1601" x2="1073.7" y2="1659"/><line x1="1092" y1="1601" x2="1092" y2="1659"/><line x1="1110.2" y1="1601" x2="1110.2" y2="1659"/><line x1="1128.5" y1="1601" x2="1128.5" y2="1659"/><line x1="1146.7" y1="1601" x2="1146.7" y2="1659"/><line x1="1165" y1="1601" x2="1165" y2="1659"/><line x1="1183.2" y1="1601" x2="1183.2" y2="1659"/><line x1="1201.5" y1="1601" x2="1201.5" y2="1659"/><line x1="1219.7" y1="1601" x2="1219.7" y2="1659"/><line x1="1237.9" y1="1601" x2="1237.9" y2="1659"/><line x1="1256.2" y1="1601" x2="1256.2" y2="1659"/><line x1="1274.4" y1="1601" x2="1274.4" y2="1659"/><line x1="1292.7" y1="1601" x2="1292.7" y2="1659"/><line x1="1310.9" y1="1601" x2="1310.9" y2="1659"/><line x1="1329.2" y1="1601" x2="1329.2" y2="1659"/><line x1="1347.4" y1="1601" x2="1347.4" y2="1659"/><line x1="1365.7" y1="1601" x2="1365.7" y2="1659"/><line x1="1383.9" y1="1601" x2="1383.9" y2="1659"/><line x1="1402.1" y1="1601" x2="1402.1" y2="1659"/><line x1="1420.4" y1="1601" x2="1420.4" y2="1659"/><line x1="1438.6" y1="1601" x2="1438.6" y2="1659"/><line x1="1456.9" y1="1601" x2="1456.9" y2="1659"/><line x1="1475.1" y1="1601" x2="1475.1" y2="1659"/><line x1="1493.4" y1="1601" x2="1493.4" y2="1659"/><line x1="1511.6" y1="1601" x2="1511.6" y2="1659"/><line x1="1529.9" y1="1601" x2="1529.9" y2="1659"/><line x1="1548.1" y1="1601" x2="1548.1" y2="1659"/><line x1="1566.4" y1="1601" x2="1566.4" y2="1659"/><line x1="1584.6" y1="1601" x2="1584.6" y2="1659"/><line x1="1602.8" y1="1601" x2="1602.8" y2="1659"/><line x1="1621.1" y1="1601" x2="1621.1" y2="1659"/><line x1="1639.3" y1="1601" x2="1639.3" y2="1659"/><line x1="1657.6" y1="1601" x2="1657.6" y2="1659"/><line x1="1675.8" y1="1601" x2="1675.8" y2="1659"/><line x1="1694.1" y1="1601" x2="1694.1" y2="1659"/><line x1="1712.3" y1="1601" x2="1712.3" y2="1659"/><line x1="1730.6" y1="1601" x2="1730.6" y2="1659"/></g>
<line x1="268.9" y1="1601" x2="268.9" y2="1659" stroke="#f3b2b2" stroke-width="1.4"/>
<rect x="519.8" y="1621.6" width="16.9" height="3" fill="#a4a2dc"/><rect x="523.4" y="1622.2" width="1.8" height="1.8" fill="#2c2a7e"/><rect x="529.9" y="1622.2" width="1.8" height="1.8" fill="#2c2a7e"/><rect x="577.2" y="1621.6" width="32.4" height="3" fill="#a4a2dc"/><rect x="580.8" y="1622.2" width="1.8" height="1.8" fill="#2c2a7e"/><rect x="587.3" y="1622.2" width="1.8" height="1.8" fill="#2c2a7e"/><rect x="593.8" y="1622.2" width="1.8" height="1.8" fill="#2c2a7e"/><rect x="600.3" y="1622.2" width="1.8" height="1.8" fill="#2c2a7e"/><rect x="664" y="1621.6" width="15.5" height="3" fill="#a4a2dc"/><rect x="667.6" y="1622.2" width="1.8" height="1.8" fill="#2c2a7e"/><rect x="674.1" y="1622.2" width="1.8" height="1.8" fill="#2c2a7e"/><rect x="724.9" y="1621.6" width="15.2" height="3" fill="#a4a2dc"/><rect x="728.5" y="1622.2" width="1.8" height="1.8" fill="#2c2a7e"/><rect x="735" y="1622.2" width="1.8" height="1.8" fill="#2c2a7e"/><rect x="506.3" y="1616.7" width="13.5" height="12.9" fill="#2c2a7e"/><rect x="536.7" y="1616.7" width="40.5" height="12.9" fill="#2c2a7e"/><rect x="609.6" y="1616.7" width="54.4" height="12.9" fill="#2c2a7e"/><rect x="679.5" y="1616.7" width="45.4" height="12.9" fill="#2c2a7e"/><rect x="740.1" y="1616.7" width="63.2" height="12.9" fill="#2c2a7e"/><text x="437.3" y="1626.9" font-family="'Liberation Mono', 'DejaVu Sans Mono', monospace" font-size="11.5" fill="#2c2a7e" textLength="63" lengthAdjust="spacingAndGlyphs">W01B6.8</text><text x="545.1" y="1641.9" font-family="'Liberation Mono', 'DejaVu Sans Mono', monospace" font-size="11.5" fill="#2c2a7e" textLength="89" lengthAdjust="spacingAndGlyphs">21ur-14258</text><rect x="641.6" y="1634.7" width="6.2" height="6" fill="#2c2a7e"/><rect x="1054.2" y="1636.2" width="15.5" height="3" fill="#a4a2dc"/><rect x="1057.8" y="1636.8" width="1.8" height="1.8" fill="#2c2a7e"/><rect x="1064.3" y="1636.8" width="1.8" height="1.8" fill="#2c2a7e"/><rect x="842" y="1631.2" width="212.2" height="13" fill="#2c2a7e"/><rect x="1069.7" y="1631.2" width="95.6" height="13" fill="#2c2a7e"/><text x="793.3" y="1641.9" font-family="'Liberation Mono', 'DejaVu Sans Mono', monospace" font-size="11.5" fill="#2c2a7e" textLength="42" lengthAdjust="spacingAndGlyphs">col-2</text><text x="971.6" y="1625.9" font-family="'Liberation Mono', 'DejaVu Sans Mono', monospace" font-size="11.5" fill="#2c2a7e" textLength="72.9" lengthAdjust="spacingAndGlyphs">W01B6.15</text><rect x="1049.3" y="1618.9" width="51.9" height="6.8" fill="#2c2a7e"/><text x="1075.9" y="1656.4" font-family="'Liberation Mono', 'DejaVu Sans Mono', monospace" font-size="11.5" fill="#2c2a7e" textLength="89" lengthAdjust="spacingAndGlyphs">21ur-14295</text><rect x="1172.3" y="1649.4" width="7" height="6" fill="#2c2a7e"/><text x="1315.9" y="1612.7" font-family="'Liberation Mono', 'DejaVu Sans Mono', monospace" font-size="11.5" fill="#3c3aa0" textLength="108.5" lengthAdjust="spacingAndGlyphs">RefSeq Genes</text><rect x="1342.5" y="1616.6" width="55.9" height="11.9" fill="#2c2a7e"/><text x="1343.8" y="1626.6" font-family="'Liberation Mono', 'DejaVu Sans Mono', monospace" font-size="11.5" fill="#c8c8f0" textLength="53" lengthAdjust="spacingAndGlyphs">ndc-80</text><rect x="1442.3" y="1621.4" width="15.3" height="3" fill="#a4a2dc"/><rect x="1445.9" y="1622" width="1.8" height="1.8" fill="#2c2a7e"/><rect x="1452.4" y="1622" width="1.8" height="1.8" fill="#2c2a7e"/><rect x="1594.4" y="1621.4" width="16.9" height="3" fill="#a4a2dc"/><rect x="1598" y="1622" width="1.8" height="1.8" fill="#2c2a7e"/><rect x="1604.5" y="1622" width="1.8" height="1.8" fill="#2c2a7e"/><rect x="1708.6" y="1621.4" width="17" height="3" fill="#a4a2dc"/><rect x="1712.2" y="1622" width="1.8" height="1.8" fill="#2c2a7e"/><rect x="1718.7" y="1622" width="1.8" height="1.8" fill="#2c2a7e"/><rect x="1403.3" y="1616.6" width="39" height="12.7" fill="#2c2a7e"/><rect x="1457.6" y="1616.6" width="136.8" height="12.7" fill="#2c2a7e"/><rect x="1611.3" y="1616.6" width="97.3" height="12.7" fill="#2c2a7e"/><rect x="1725.6" y="1616.6" width="17.2" height="12.7" fill="#2c2a7e"/>
<g font-family="'Liberation Sans', Arial, sans-serif" font-size="35.5" fill="#111">
<text x="9.1" y="1337.2" textLength="168" lengthAdjust="spacingAndGlyphs">H3K27me1</text>
<text x="9.1" y="1423.2" textLength="172.3" lengthAdjust="spacingAndGlyphs">H3K27me3</text>
<text x="9.1" y="1509.3" textLength="172.3" lengthAdjust="spacingAndGlyphs">H3K27me3</text>
<text x="9.1" y="1595.3" textLength="143.6" lengthAdjust="spacingAndGlyphs">H3K27Ac</text>
</g>
<path d="M741.2 1680.4 Q754.2 1674.4 764.2 1661.9 Q758.2 1673.4 758.2 1680.4 Q758.2 1687.4 764.2 1698.9 Q754.2 1686.4 741.2 1680.4Z" fill="#111"/><rect x="756.2" y="1678.5" width="38.5" height="3.8" fill="#111"/>
<path d="M1103.6 1687.4 Q1116.6 1681.4 1126.6 1668.9 Q1120.6 1680.4 1120.6 1687.4 Q1120.6 1694.4 1126.6 1705.9 Q1116.6 1693.4 1103.6 1687.4Z" fill="#111"/><rect x="1118.6" y="1685.5" width="38.6" height="3.8" fill="#111"/>
<path d="M1455.5 1687.2 Q1442.5 1681.2 1432.5 1668.7 Q1438.5 1680.2 1438.5 1687.2 Q1438.5 1694.2 1432.5 1705.7 Q1442.5 1693.2 1455.5 1687.2Z" fill="#111"/><rect x="1401" y="1685.3" width="39.5" height="3.8" fill="#111"/>
<g font-family="'Liberation Sans', Arial, sans-serif" font-style="italic" font-size="37" fill="#111">
<text x="652.5" y="1738.4" textLength="153" lengthAdjust="spacingAndGlyphs">W01B6.8</text>
<text x="1086.5" y="1738.4" textLength="81.5" lengthAdjust="spacingAndGlyphs">col-2</text>
<text x="1402" y="1737.5" textLength="116" lengthAdjust="spacingAndGlyphs">ndc-80</text>
</g>
</svg></body></html>
